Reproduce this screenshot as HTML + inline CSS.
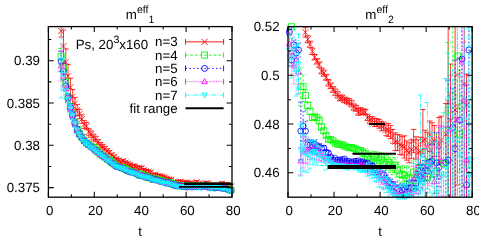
<!DOCTYPE html>
<html><head><meta charset="utf-8"><title>m eff</title>
<style>html,body{margin:0;padding:0;background:#fff}body{width:479px;height:240px;overflow:hidden;font-family:"Liberation Sans",sans-serif}svg{display:block}</style>
</head><body>
<svg width="479" height="240" viewBox="0 0 479 240" font-family="'Liberation Sans', sans-serif" font-size="13.3" fill="#000" style="text-rendering:geometricPrecision">
<rect width="479" height="240" fill="#fff"/>
<filter id="bl" x="0" y="0" width="479" height="240" filterUnits="userSpaceOnUse" color-interpolation-filters="sRGB"><feGaussianBlur stdDeviation="0.35"/></filter>
<g stroke="#ff0000" stroke-width="0.8" fill="none" filter="url(#bl)">
<path d="M61.17 26.6L61.17 37.05M58.38 37.05L63.97 37.05M63.47 30.09L63.47 62.09M60.67 30.09L66.27 30.09M60.67 62.09L66.27 62.09M65.77 48.98L65.77 74.98M62.97 48.98L68.56 48.98M62.97 74.98L68.56 74.98M68.06 64.33L68.06 88.33M65.26 64.33L70.86 64.33M65.26 88.33L70.86 88.33M70.36 78.3L70.36 96.3M67.56 78.3L73.16 78.3M67.56 96.3L73.16 96.3M72.65 89.52L72.65 103.52M69.85 89.52L75.45 89.52M69.85 103.52L75.45 103.52M74.94 97.4L74.94 109.4M72.14 97.4L77.74 97.4M72.14 109.4L77.74 109.4M77.24 104.38L77.24 115.38M74.44 104.38L80.04 104.38M74.44 115.38L80.04 115.38M79.53 109.34L79.53 118.69M76.73 109.34L82.33 109.34M76.73 118.69L82.33 118.69M81.83 114.79L81.83 123.4M79.03 114.79L84.63 114.79M79.03 123.4L84.63 123.4M84.12 120.4L84.12 128.35M81.32 120.4L86.92 120.4M81.32 128.35L86.92 128.35M86.42 122.48L86.42 129.84M83.62 122.48L89.22 122.48M83.62 129.84L89.22 129.84M88.71 128.35L88.71 135.2M85.91 128.35L91.51 128.35M85.91 135.2L91.51 135.2M91.01 131.02L91.01 137.43M88.21 131.02L93.81 131.02M88.21 137.43L93.81 137.43M93.3 134.16L93.3 140.16M90.5 134.16L96.1 134.16M90.5 140.16L96.1 140.16M95.6 136.27L95.6 141.92M92.8 136.27L98.4 136.27M92.8 141.92L98.4 141.92M97.89 139.6L97.89 144.93M95.09 139.6L100.69 139.6M95.09 144.93L100.69 144.93M100.19 142.64L100.19 147.7M97.39 142.64L102.99 142.64M97.39 147.7L102.99 147.7M102.48 144.39L102.48 149.21M99.69 144.39L105.28 144.39M99.69 149.21L105.28 149.21M104.78 146.43L104.78 151.04M101.98 146.43L107.58 146.43M101.98 151.04L107.58 151.04M107.08 148.72L107.08 153.13M104.28 148.72L109.88 148.72M104.28 153.13L109.88 153.13M109.37 150.63L109.37 154.88M106.57 150.63L112.17 150.63M106.57 154.88L112.17 154.88M111.67 153.03L111.67 157.14M108.87 153.03L114.47 153.03M108.87 157.14L114.47 157.14M113.96 155.05L113.96 159.02M111.16 155.05L116.76 155.05M111.16 159.02L116.76 159.02M116.25 157.29L116.25 161.15M113.45 157.29L119.05 157.29M113.45 161.15L119.05 161.15M118.55 158.51L118.55 162.27M115.75 158.51L121.35 158.51M115.75 162.27L121.35 162.27M120.84 160.3L120.84 163.97M118.04 160.3L123.64 160.3M118.04 163.97L123.64 163.97M123.14 159.27L123.14 162.86M120.34 159.27L125.94 159.27M120.34 162.86L125.94 162.86M125.43 161.01L125.43 164.53M122.63 161.01L128.23 161.01M122.63 164.53L128.23 164.53M127.73 161.93L127.73 165.39M124.93 161.93L130.53 161.93M124.93 165.39L130.53 165.39M130.03 163.13L130.03 166.54M127.23 163.13L132.83 163.13M127.23 166.54L132.83 166.54M132.32 164.58L132.32 167.94M129.52 164.58L135.12 164.58M129.52 167.94L135.12 167.94M134.62 164.5L134.62 167.82M131.81 164.5L137.42 164.5M131.81 167.82L137.42 167.82M136.91 165.91L136.91 169.19M134.11 165.91L139.71 165.91M134.11 169.19L139.71 169.19M139.21 166.16L139.21 169.41M136.41 166.16L142.01 166.16M136.41 169.41L142.01 169.41M141.5 166.47L141.5 169.69M138.7 166.47L144.3 166.47M138.7 169.69L144.3 169.69M143.79 168.58L143.79 171.77M140.99 168.58L146.59 168.58M140.99 171.77L146.59 171.77M146.09 169.55L146.09 172.72M143.29 169.55L148.89 169.55M143.29 172.72L148.89 172.72M148.38 170.03L148.38 173.18M145.58 170.03L151.19 170.03M145.58 173.18L151.19 173.18M150.68 170.91L150.68 174.04M147.88 170.91L153.48 170.91M147.88 174.04L153.48 174.04M152.97 173.33L152.97 176.44M150.17 173.33L155.78 173.33M150.17 176.44L155.78 176.44M155.27 173.1L155.27 176.2M152.47 173.1L158.07 173.1M152.47 176.2L158.07 176.2M157.56 174.36L157.56 177.45M154.76 174.36L160.37 174.36M154.76 177.45L160.37 177.45M159.86 174.32L159.86 177.4M157.06 174.32L162.66 174.32M157.06 177.4L162.66 177.4M162.16 175.11L162.16 178.18M159.35 175.11L164.96 175.11M159.35 178.18L164.96 178.18M164.45 175.86L164.45 178.93M161.65 175.86L167.25 175.86M161.65 178.93L167.25 178.93M166.75 177.15L166.75 180.2M163.94 177.15L169.55 177.15M163.94 180.2L169.55 180.2M169.04 177.74L169.04 180.79M166.24 177.74L171.84 177.74M166.24 180.79L171.84 180.79M171.34 178.15L171.34 181.19M168.53 178.15L174.14 178.15M168.53 181.19L174.14 181.19M173.63 180.6L173.63 183.64M170.83 180.6L176.43 180.6M170.83 183.64L176.43 183.64M175.93 180.57L175.93 183.6M173.12 180.57L178.73 180.57M173.12 183.6L178.73 183.6M178.22 180.54L178.22 183.57M175.42 180.54L181.02 180.54M175.42 183.57L181.02 183.57M180.52 180.05L180.52 183.08M177.72 180.05L183.32 180.05M177.72 183.08L183.32 183.08M182.81 181.42L182.81 184.44M180.01 181.42L185.61 181.42M180.01 184.44L185.61 184.44M185.11 180.97L185.11 183.99M182.31 180.97L187.91 180.97M182.31 183.99L187.91 183.99M187.4 181.09L187.4 184.11M184.6 181.09L190.2 181.09M184.6 184.11L190.2 184.11M189.69 181.71L189.69 184.72M186.89 181.71L192.5 181.71M186.89 184.72L192.5 184.72M191.99 182.13L191.99 185.14M189.19 182.13L194.79 182.13M189.19 185.14L194.79 185.14M194.28 182.18L194.28 185.19M191.48 182.18L197.09 182.18M191.48 185.19L197.09 185.19M196.58 180.54L196.58 183.56M193.78 180.54L199.38 180.54M193.78 183.56L199.38 183.56M198.88 182.12L198.88 185.13M196.07 182.12L201.68 182.12M196.07 185.13L201.68 185.13M201.17 183.01L201.17 186.02M198.37 183.01L203.97 183.01M198.37 186.02L203.97 186.02M203.47 182.85L203.47 185.85M200.66 182.85L206.27 182.85M200.66 185.85L206.27 185.85M205.76 181.79L205.76 184.8M202.96 181.79L208.56 181.79M202.96 184.8L208.56 184.8M208.06 181.99L208.06 184.99M205.25 181.99L210.86 181.99M205.25 184.99L210.86 184.99M210.35 183.69L210.35 186.69M207.55 183.69L213.15 183.69M207.55 186.69L213.15 186.69M212.65 183.37L212.65 186.38M209.84 183.37L215.45 183.37M209.84 186.38L215.45 186.38M214.94 183.61L214.94 186.61M212.14 183.61L217.74 183.61M212.14 186.61L217.74 186.61M217.24 183.65L217.24 187.65M214.44 183.65L220.04 183.65M214.44 187.65L220.04 187.65M219.53 182.93L219.53 186.93M216.73 182.93L222.33 182.93M216.73 186.93L222.33 186.93M221.83 181.84L221.83 185.84M219.03 181.84L224.63 181.84M219.03 185.84L224.63 185.84M224.12 183.03L224.12 187.03M221.32 183.03L226.92 183.03M221.32 187.03L226.92 187.03M226.42 182.71L226.42 186.71M223.62 182.71L229.22 182.71M223.62 186.71L229.22 186.71M228.71 184.34L228.71 188.34M225.91 184.34L231.51 184.34M225.91 188.34L231.51 188.34M231.01 184.31L231.01 188.31M228.21 184.31L233.81 184.31M228.21 188.31L233.81 188.31"/>
<path d="M58.17 28.05L64.17 34.05M58.17 34.05L64.17 28.05"/>
<path d="M60.47 43.09L66.47 49.09M60.47 49.09L66.47 43.09"/>
<path d="M62.77 58.98L68.77 64.98M62.77 64.98L68.77 58.98"/>
<path d="M65.06 73.33L71.06 79.33M65.06 79.33L71.06 73.33"/>
<path d="M67.36 84.3L73.36 90.3M67.36 90.3L73.36 84.3"/>
<path d="M69.65 93.52L75.65 99.52M69.65 99.52L75.65 93.52"/>
<path d="M71.94 100.4L77.94 106.4M71.94 106.4L77.94 100.4"/>
<path d="M74.24 106.88L80.24 112.88M74.24 112.88L80.24 106.88"/>
<path d="M76.53 111.01L82.53 117.01M76.53 117.01L82.53 111.01"/>
<path d="M78.83 116.1L84.83 122.1M78.83 122.1L84.83 116.1"/>
<path d="M81.12 121.37L87.12 127.37M81.12 127.37L87.12 121.37"/>
<path d="M83.42 123.16L89.42 129.16M83.42 129.16L89.42 123.16"/>
<path d="M85.71 128.78L91.71 134.78M85.71 134.78L91.71 128.78"/>
<path d="M88.01 131.23L94.01 137.23M88.01 137.23L94.01 131.23"/>
<path d="M90.3 134.16L96.3 140.16M90.3 140.16L96.3 134.16"/>
<path d="M92.6 136.1L98.6 142.1M92.6 142.1L98.6 136.1"/>
<path d="M94.89 139.27L100.89 145.27M94.89 145.27L100.89 139.27"/>
<path d="M97.19 142.17L103.19 148.17M97.19 148.17L103.19 142.17"/>
<path d="M99.48 143.8L105.48 149.8M99.48 149.8L105.48 143.8"/>
<path d="M101.78 145.74L107.78 151.74M101.78 151.74L107.78 145.74"/>
<path d="M104.08 147.92L110.08 153.92M104.08 153.92L110.08 147.92"/>
<path d="M106.37 149.75L112.37 155.75M106.37 155.75L112.37 149.75"/>
<path d="M108.67 152.09L114.67 158.09M108.67 158.09L114.67 152.09"/>
<path d="M110.96 154.03L116.96 160.03M110.96 160.03L116.96 154.03"/>
<path d="M113.25 156.22L119.25 162.22M113.25 162.22L119.25 156.22"/>
<path d="M115.55 157.39L121.55 163.39M115.55 163.39L121.55 157.39"/>
<path d="M117.84 159.14L123.84 165.14M117.84 165.14L123.84 159.14"/>
<path d="M120.14 158.06L126.14 164.06M120.14 164.06L126.14 158.06"/>
<path d="M122.43 159.77L128.44 165.77M122.43 165.77L128.44 159.77"/>
<path d="M124.73 160.66L130.73 166.66M124.73 166.66L130.73 160.66"/>
<path d="M127.03 161.83L133.03 167.83M127.03 167.83L133.03 161.83"/>
<path d="M129.32 163.26L135.32 169.26M129.32 169.26L135.32 163.26"/>
<path d="M131.62 163.16L137.62 169.16M131.62 169.16L137.62 163.16"/>
<path d="M133.91 164.55L139.91 170.55M133.91 170.55L139.91 164.55"/>
<path d="M136.21 164.78L142.21 170.78M136.21 170.78L142.21 164.78"/>
<path d="M138.5 165.08L144.5 171.08M138.5 171.08L144.5 165.08"/>
<path d="M140.79 167.17L146.79 173.17M140.79 173.17L146.79 167.17"/>
<path d="M143.09 168.14L149.09 174.14M143.09 174.14L149.09 168.14"/>
<path d="M145.38 168.6L151.38 174.6M145.38 174.6L151.38 168.6"/>
<path d="M147.68 169.48L153.68 175.48M147.68 175.48L153.68 169.48"/>
<path d="M149.97 171.89L155.97 177.89M149.97 177.89L155.97 171.89"/>
<path d="M152.27 171.65L158.27 177.65M152.27 177.65L158.27 171.65"/>
<path d="M154.56 172.9L160.56 178.9M154.56 178.9L160.56 172.9"/>
<path d="M156.86 172.86L162.86 178.86M156.86 178.86L162.86 172.86"/>
<path d="M159.16 173.64L165.16 179.64M159.16 179.64L165.16 173.64"/>
<path d="M161.45 174.39L167.45 180.39M161.45 180.39L167.45 174.39"/>
<path d="M163.75 175.67L169.75 181.67M163.75 181.67L169.75 175.67"/>
<path d="M166.04 176.27L172.04 182.27M166.04 182.27L172.04 176.27"/>
<path d="M168.34 176.67L174.34 182.67M168.34 182.67L174.34 176.67"/>
<path d="M170.63 179.12L176.63 185.12M170.63 185.12L176.63 179.12"/>
<path d="M172.93 179.08L178.93 185.08M172.93 185.08L178.93 179.08"/>
<path d="M175.22 179.06L181.22 185.06M175.22 185.06L181.22 179.06"/>
<path d="M177.52 178.57L183.52 184.57M177.52 184.57L183.52 178.57"/>
<path d="M179.81 179.93L185.81 185.93M179.81 185.93L185.81 179.93"/>
<path d="M182.11 179.48L188.11 185.48M182.11 185.48L188.11 179.48"/>
<path d="M184.4 179.6L190.4 185.6M184.4 185.6L190.4 179.6"/>
<path d="M186.69 180.22L192.69 186.22M186.69 186.22L192.69 180.22"/>
<path d="M188.99 180.63L194.99 186.63M188.99 186.63L194.99 180.63"/>
<path d="M191.28 180.68L197.28 186.68M191.28 186.68L197.28 180.68"/>
<path d="M193.58 179.05L199.58 185.05M193.58 185.05L199.58 179.05"/>
<path d="M195.88 180.63L201.88 186.63M195.88 186.63L201.88 180.63"/>
<path d="M198.17 181.51L204.17 187.51M198.17 187.51L204.17 181.51"/>
<path d="M200.47 181.35L206.47 187.35M200.47 187.35L206.47 181.35"/>
<path d="M202.76 180.3L208.76 186.3M202.76 186.3L208.76 180.3"/>
<path d="M205.06 180.49L211.06 186.49M205.06 186.49L211.06 180.49"/>
<path d="M207.35 182.19L213.35 188.19M207.35 188.19L213.35 182.19"/>
<path d="M209.65 181.88L215.65 187.88M209.65 187.88L215.65 181.88"/>
<path d="M211.94 182.11L217.94 188.11M211.94 188.11L217.94 182.11"/>
<path d="M214.24 182.65L220.24 188.65M214.24 188.65L220.24 182.65"/>
<path d="M216.53 181.93L222.53 187.93M216.53 187.93L222.53 181.93"/>
<path d="M218.83 180.84L224.83 186.84M218.83 186.84L224.83 180.84"/>
<path d="M221.12 182.03L227.12 188.03M221.12 188.03L227.12 182.03"/>
<path d="M223.42 181.71L229.42 187.71M223.42 187.71L229.42 181.71"/>
<path d="M225.71 183.34L231.71 189.34M225.71 189.34L231.71 183.34"/>
<path d="M228.01 183.31L234.01 189.31M228.01 189.31L234.01 183.31"/>
</g>
<g stroke="#00ff00" stroke-width="0.8" fill="none" filter="url(#bl)">
<path d="M61.17 48.48L61.17 64.48M58.38 48.48L63.97 48.48M58.38 64.48L63.97 64.48M63.47 62.06L63.47 74.06M60.67 62.06L66.27 62.06M60.67 74.06L66.27 74.06M65.77 77.17L65.77 87.17M62.97 77.17L68.56 77.17M62.97 87.17L68.56 87.17M68.06 92.99L68.06 100.99M65.26 92.99L70.86 92.99M65.26 100.99L70.86 100.99M70.36 102.96L70.36 109.96M67.56 102.96L73.16 102.96M67.56 109.96L73.16 109.96M72.65 110.5L72.65 117.1M69.85 110.5L75.45 110.5M69.85 117.1L75.45 117.1M74.94 118.83L74.94 125.03M72.14 118.83L77.74 118.83M72.14 125.03L77.74 125.03M77.24 126.48L77.24 132.48M74.44 126.48L80.04 126.48M74.44 132.48L80.04 132.48M79.53 130.79L79.53 136.53M76.73 130.79L82.33 130.79M76.73 136.53L82.33 136.53M81.83 134.42L81.83 139.58M79.03 134.42L84.63 134.42M79.03 139.58L84.63 139.58M84.12 137.73L84.12 142.37M81.32 137.73L86.92 137.73M81.32 142.37L86.92 142.37M86.42 140.88L86.42 145.07M83.62 140.88L89.22 140.88M83.62 145.07L89.22 145.07M88.71 142.7L88.71 146.5M85.91 142.7L91.51 142.7M85.91 146.5L91.51 146.5M91.01 144.6L91.01 148.05M88.21 144.6L93.81 144.6M88.21 148.05L93.81 148.05M93.3 145.75L93.3 148.88M90.5 145.75L96.1 145.75M90.5 148.88L96.1 148.88M95.6 148.57L95.6 151.43M92.8 148.57L98.4 148.57M92.8 151.43L98.4 151.43M97.89 150.61L97.89 153.23M95.09 150.61L100.69 150.61M95.09 153.23L100.69 153.23M100.19 152.93L100.19 155.33M97.39 152.93L102.99 152.93M97.39 155.33L102.99 155.33M102.48 154.24L102.48 156.46M99.69 154.24L105.28 154.24M99.69 156.46L105.28 156.46M104.78 156.18L104.78 158.23M101.98 156.18L107.58 156.18M101.98 158.23L107.58 158.23M107.08 158.19L107.08 160.09M104.28 158.19L109.88 158.19M104.28 160.09L109.88 160.09M109.37 159L109.37 160.78M106.57 159L112.17 159M106.57 160.78L112.17 160.78M111.67 161.77L111.67 163.43M108.87 161.77L114.47 161.77M108.87 163.43L114.47 163.43M113.96 163.23L113.96 164.79M111.16 163.23L116.76 163.23M111.16 164.79L116.76 164.79M116.25 164.59L116.25 166.06M113.45 164.59L119.05 164.59M113.45 166.06L119.05 166.06M118.55 165.84L118.55 167.23M115.75 165.84L121.35 165.84M115.75 167.23L121.35 167.23M120.84 166.87L120.84 168.19M118.04 166.87L123.64 166.87M118.04 168.19L123.64 168.19M123.14 167.19L123.14 168.45M120.34 167.19L125.94 167.19M120.34 168.45L125.94 168.45M125.43 168.34L125.43 169.54M122.63 168.34L128.23 168.34M122.63 169.54L128.23 169.54M127.73 169.92L127.73 171.08M124.93 169.92L130.53 169.92M124.93 171.08L130.53 171.08M130.03 171.01L130.03 172.12M127.23 171.01L132.83 171.01M127.23 172.12L132.83 172.12M132.32 171.41L132.32 172.49M129.52 171.41L135.12 171.41M129.52 172.49L135.12 172.49M134.62 171.63L134.62 172.67M131.81 171.63L137.42 171.63M131.81 172.67L137.42 172.67M136.91 172.95L136.91 173.97M134.11 172.95L139.71 172.95M134.11 173.97L139.71 173.97M139.21 174.35L139.21 175.34M136.41 174.35L142.01 174.35M136.41 175.34L142.01 175.34M141.5 174.29L141.5 175.26M138.7 174.29L144.3 174.29M138.7 175.26L144.3 175.26M143.79 175.09L143.79 176.04M140.99 175.09L146.59 175.09M140.99 176.04L146.59 176.04M146.09 176.6L146.09 177.54M143.29 176.6L148.89 176.6M143.29 177.54L148.89 177.54M148.38 176.45L148.38 177.37M145.58 176.45L151.19 176.45M145.58 177.37L151.19 177.37M150.68 177.56L150.68 178.47M147.88 177.56L153.48 177.56M147.88 178.47L153.48 178.47M152.97 178.78L152.97 179.67M150.17 178.78L155.78 178.78M150.17 179.67L155.78 179.67M155.27 178.49L155.27 179.37M152.47 178.49L158.07 178.49M152.47 179.37L158.07 179.37M157.56 179.39L157.56 180.26M154.76 179.39L160.37 179.39M154.76 180.26L160.37 180.26M159.86 179.95L159.86 180.81M157.06 179.95L162.66 179.95M157.06 180.81L162.66 180.81M162.16 180.52L162.16 181.37M159.35 180.52L164.96 180.52M159.35 181.37L164.96 181.37M164.45 181.41L164.45 182.26M161.65 181.41L167.25 181.41M161.65 182.26L167.25 182.26M166.75 182.23L166.75 183.08M163.94 182.23L169.55 182.23M163.94 183.08L169.55 183.08M169.04 181.97L169.04 182.81M166.24 181.97L171.84 181.97M166.24 182.81L171.84 182.81M171.34 182.97L171.34 183.81M168.53 182.97L174.14 182.97M168.53 183.81L174.14 183.81M173.63 183.95L173.63 184.78M170.83 183.95L176.43 183.95M170.83 184.78L176.43 184.78M175.93 184.89L175.93 185.72M173.12 184.89L178.73 184.89M173.12 185.72L178.73 185.72M178.22 185.39L178.22 186.22M175.42 185.39L181.02 185.39M175.42 186.22L181.02 186.22M180.52 185.52L180.52 186.34M177.72 185.52L183.32 185.52M177.72 186.34L183.32 186.34M182.81 185.56L182.81 186.38M180.01 185.56L185.61 185.56M180.01 186.38L185.61 186.38M185.11 185.64L185.11 186.45M182.31 185.64L187.91 185.64M182.31 186.45L187.91 186.45M187.4 185.79L187.4 186.61M184.6 185.79L190.2 185.79M184.6 186.61L190.2 186.61M189.69 185.47L189.69 186.28M186.89 185.47L192.5 185.47M186.89 186.28L192.5 186.28M191.99 185.57L191.99 186.38M189.19 185.57L194.79 185.57M189.19 186.38L194.79 186.38M194.28 185.69L194.28 186.5M191.48 185.69L197.09 185.69M191.48 186.5L197.09 186.5M196.58 185.47L196.58 186.28M193.78 185.47L199.38 185.47M193.78 186.28L199.38 186.28M198.88 185.69L198.88 186.5M196.07 185.69L201.68 185.69M196.07 186.5L201.68 186.5M201.17 186.12L201.17 186.93M198.37 186.12L203.97 186.12M198.37 186.93L203.97 186.93M203.47 185.85L203.47 186.66M200.66 185.85L206.27 185.85M200.66 186.66L206.27 186.66M205.76 185.56L205.76 186.36M202.96 185.56L208.56 185.56M202.96 186.36L208.56 186.36M208.06 185.41L208.06 186.22M205.25 185.41L210.86 185.41M205.25 186.22L210.86 186.22M210.35 186.64L210.35 187.44M207.55 186.64L213.15 186.64M207.55 187.44L213.15 187.44M212.65 187.25L212.65 188.06M209.84 187.25L215.45 187.25M209.84 188.06L215.45 188.06M214.94 186.84L214.94 187.64M212.14 186.84L217.74 186.84M212.14 187.64L217.74 187.64M217.24 185.86L217.24 187.66M214.44 185.86L220.04 185.86M214.44 187.66L220.04 187.66M219.53 186.73L219.53 188.53M216.73 186.73L222.33 186.73M216.73 188.53L222.33 188.53M221.83 186.45L221.83 188.26M219.03 186.45L224.63 186.45M219.03 188.26L224.63 188.26M224.12 186.22L224.12 188.02M221.32 186.22L226.92 186.22M221.32 188.02L226.92 188.02M226.42 187.78L226.42 189.58M223.62 187.78L229.22 187.78M223.62 189.58L229.22 189.58M228.71 188.04L228.71 189.84M225.91 188.04L231.51 188.04M225.91 189.84L231.51 189.84M231.01 189.16L231.01 190.96M228.21 189.16L233.81 189.16M228.21 190.96L233.81 190.96" stroke-dasharray="2.7 2.0"/>
<rect x="58.17" y="53.48" width="6" height="6"/>
<rect x="60.47" y="65.06" width="6" height="6"/>
<rect x="62.77" y="79.17" width="6" height="6"/>
<rect x="65.06" y="93.99" width="6" height="6"/>
<rect x="67.36" y="103.46" width="6" height="6"/>
<rect x="69.65" y="110.8" width="6" height="6"/>
<rect x="71.94" y="118.93" width="6" height="6"/>
<rect x="74.24" y="126.48" width="6" height="6"/>
<rect x="76.53" y="130.66" width="6" height="6"/>
<rect x="78.83" y="134" width="6" height="6"/>
<rect x="81.12" y="137.05" width="6" height="6"/>
<rect x="83.42" y="139.98" width="6" height="6"/>
<rect x="85.71" y="141.6" width="6" height="6"/>
<rect x="88.01" y="143.32" width="6" height="6"/>
<rect x="90.3" y="144.32" width="6" height="6"/>
<rect x="92.6" y="147" width="6" height="6"/>
<rect x="94.89" y="148.92" width="6" height="6"/>
<rect x="97.19" y="151.13" width="6" height="6"/>
<rect x="99.48" y="152.35" width="6" height="6"/>
<rect x="101.78" y="154.2" width="6" height="6"/>
<rect x="104.08" y="156.14" width="6" height="6"/>
<rect x="106.37" y="156.89" width="6" height="6"/>
<rect x="108.67" y="159.6" width="6" height="6"/>
<rect x="110.96" y="161.01" width="6" height="6"/>
<rect x="113.25" y="162.32" width="6" height="6"/>
<rect x="115.55" y="163.53" width="6" height="6"/>
<rect x="117.84" y="164.53" width="6" height="6"/>
<rect x="120.14" y="164.82" width="6" height="6"/>
<rect x="122.43" y="165.94" width="6" height="6"/>
<rect x="124.73" y="167.5" width="6" height="6"/>
<rect x="127.03" y="168.56" width="6" height="6"/>
<rect x="129.32" y="168.95" width="6" height="6"/>
<rect x="131.62" y="169.15" width="6" height="6"/>
<rect x="133.91" y="170.46" width="6" height="6"/>
<rect x="136.21" y="171.85" width="6" height="6"/>
<rect x="138.5" y="171.78" width="6" height="6"/>
<rect x="140.79" y="172.57" width="6" height="6"/>
<rect x="143.09" y="174.07" width="6" height="6"/>
<rect x="145.38" y="173.91" width="6" height="6"/>
<rect x="147.68" y="175.02" width="6" height="6"/>
<rect x="149.97" y="176.23" width="6" height="6"/>
<rect x="152.27" y="175.93" width="6" height="6"/>
<rect x="154.56" y="176.83" width="6" height="6"/>
<rect x="156.86" y="177.38" width="6" height="6"/>
<rect x="159.16" y="177.94" width="6" height="6"/>
<rect x="161.45" y="178.83" width="6" height="6"/>
<rect x="163.75" y="179.66" width="6" height="6"/>
<rect x="166.04" y="179.39" width="6" height="6"/>
<rect x="168.34" y="180.39" width="6" height="6"/>
<rect x="170.63" y="181.36" width="6" height="6"/>
<rect x="172.93" y="182.31" width="6" height="6"/>
<rect x="175.22" y="182.81" width="6" height="6"/>
<rect x="177.52" y="182.93" width="6" height="6"/>
<rect x="179.81" y="182.97" width="6" height="6"/>
<rect x="182.11" y="183.05" width="6" height="6"/>
<rect x="184.4" y="183.2" width="6" height="6"/>
<rect x="186.69" y="182.88" width="6" height="6"/>
<rect x="188.99" y="182.98" width="6" height="6"/>
<rect x="191.28" y="183.09" width="6" height="6"/>
<rect x="193.58" y="182.87" width="6" height="6"/>
<rect x="195.88" y="183.1" width="6" height="6"/>
<rect x="198.17" y="183.53" width="6" height="6"/>
<rect x="200.47" y="183.25" width="6" height="6"/>
<rect x="202.76" y="182.96" width="6" height="6"/>
<rect x="205.06" y="182.81" width="6" height="6"/>
<rect x="207.35" y="184.04" width="6" height="6"/>
<rect x="209.65" y="184.65" width="6" height="6"/>
<rect x="211.94" y="184.24" width="6" height="6"/>
<rect x="214.24" y="183.76" width="6" height="6"/>
<rect x="216.53" y="184.63" width="6" height="6"/>
<rect x="218.83" y="184.36" width="6" height="6"/>
<rect x="221.12" y="184.12" width="6" height="6"/>
<rect x="223.42" y="185.68" width="6" height="6"/>
<rect x="225.71" y="185.94" width="6" height="6"/>
<rect x="228.01" y="187.06" width="6" height="6"/>
</g>
<g stroke="#0000ff" stroke-width="0.8" fill="none" filter="url(#bl)">
<path d="M61.17 51.24L61.17 71.24M58.38 51.24L63.97 51.24M58.38 71.24L63.97 71.24M63.47 63.4L63.47 79.4M60.67 63.4L66.27 63.4M60.67 79.4L66.27 79.4M65.77 80.79L65.77 90.79M62.97 80.79L68.56 80.79M62.97 90.79L68.56 90.79M68.06 93.78L68.06 101.78M65.26 93.78L70.86 93.78M65.26 101.78L70.86 101.78M70.36 103.98L70.36 110.98M67.56 103.98L73.16 103.98M67.56 110.98L73.16 110.98M72.65 111.7L72.65 118.3M69.85 111.7L75.45 111.7M69.85 118.3L75.45 118.3M74.94 120L74.94 126.2M72.14 120L77.74 120M72.14 126.2L77.74 126.2M77.24 126.68L77.24 132.68M74.44 126.68L80.04 126.68M74.44 132.68L80.04 132.68M79.53 131.19L79.53 136.93M76.73 131.19L82.33 131.19M76.73 136.93L82.33 136.93M81.83 135.23L81.83 140.4M79.03 135.23L84.63 135.23M79.03 140.4L84.63 140.4M84.12 138.63L84.12 143.28M81.32 138.63L86.92 138.63M81.32 143.28L86.92 143.28M86.42 141.06L86.42 145.25M83.62 141.06L89.22 141.06M83.62 145.25L89.22 145.25M88.71 143.06L88.71 146.86M85.91 143.06L91.51 143.06M85.91 146.86L91.51 146.86M91.01 144.85L91.01 148.29M88.21 144.85L93.81 144.85M88.21 148.29L93.81 148.29M93.3 147.01L93.3 150.14M90.5 147.01L96.1 147.01M90.5 150.14L96.1 150.14M95.6 149.01L95.6 151.87M92.8 149.01L98.4 149.01M92.8 151.87L98.4 151.87M97.89 150.89L97.89 153.51M95.09 150.89L100.69 150.89M95.09 153.51L100.69 153.51M100.19 152.88L100.19 155.28M97.39 152.88L102.99 152.88M97.39 155.28L102.99 155.28M102.48 154.55L102.48 156.77M99.69 154.55L105.28 154.55M99.69 156.77L105.28 156.77M104.78 155.94L104.78 157.99M101.98 155.94L107.58 155.94M101.98 157.99L107.58 157.99M107.08 158.43L107.08 160.33M104.28 158.43L109.88 158.43M104.28 160.33L109.88 160.33M109.37 160.12L109.37 161.89M106.57 160.12L112.17 160.12M106.57 161.89L112.17 161.89M111.67 161.93L111.67 163.59M108.87 161.93L114.47 161.93M108.87 163.59L114.47 163.59M113.96 163.71L113.96 165.27M111.16 163.71L116.76 163.71M111.16 165.27L116.76 165.27M116.25 165.6L116.25 167.07M113.45 165.6L119.05 165.6M113.45 167.07L119.05 167.07M118.55 166.06L118.55 167.45M115.75 166.06L121.35 166.06M115.75 167.45L121.35 167.45M120.84 167.11L120.84 168.43M118.04 167.11L123.64 167.11M118.04 168.43L123.64 168.43M123.14 168.01L123.14 169.26M120.34 168.01L125.94 168.01M120.34 169.26L125.94 169.26M125.43 169.11L125.43 170.31M122.63 169.11L128.23 169.11M122.63 170.31L128.23 170.31M127.73 170.3L127.73 171.46M124.93 170.3L130.53 170.3M124.93 171.46L130.53 171.46M130.03 171.28L130.03 172.39M127.23 171.28L132.83 171.28M127.23 172.39L132.83 172.39M132.32 171.77L132.32 172.85M129.52 171.77L135.12 171.77M129.52 172.85L135.12 172.85M134.62 172.46L134.62 173.5M131.81 172.46L137.42 172.46M131.81 173.5L137.42 173.5M136.91 173.23L136.91 174.25M134.11 173.23L139.71 173.23M134.11 174.25L139.71 174.25M139.21 174.84L139.21 175.83M136.41 174.84L142.01 174.84M136.41 175.83L142.01 175.83M141.5 175.22L141.5 176.19M138.7 175.22L144.3 175.22M138.7 176.19L144.3 176.19M143.79 175.91L143.79 176.86M140.99 175.91L146.59 175.91M140.99 176.86L146.59 176.86M146.09 176.7L146.09 177.63M143.29 176.7L148.89 176.7M143.29 177.63L148.89 177.63M148.38 176.95L148.38 177.86M145.58 176.95L151.19 176.95M145.58 177.86L151.19 177.86M150.68 177.71L150.68 178.62M147.88 177.71L153.48 177.71M147.88 178.62L153.48 178.62M152.97 179.15L152.97 180.05M150.17 179.15L155.78 179.15M150.17 180.05L155.78 180.05M155.27 179.18L155.27 180.06M152.47 179.18L158.07 179.18M152.47 180.06L158.07 180.06M157.56 179.89L157.56 180.76M154.76 179.89L160.37 179.89M154.76 180.76L160.37 180.76M159.86 180.95L159.86 181.81M157.06 180.95L162.66 180.95M157.06 181.81L162.66 181.81M162.16 181.19L162.16 182.05M159.35 181.19L164.96 181.19M159.35 182.05L164.96 182.05M164.45 181.87L164.45 182.72M161.65 181.87L167.25 181.87M161.65 182.72L167.25 182.72M166.75 182.84L166.75 183.68M163.94 182.84L169.55 182.84M163.94 183.68L169.55 183.68M169.04 182.27L169.04 183.11M166.24 182.27L171.84 182.27M166.24 183.11L171.84 183.11M171.34 183.7L171.34 184.54M168.53 183.7L174.14 183.7M168.53 184.54L174.14 184.54M173.63 184.46L173.63 185.29M170.83 184.46L176.43 184.46M170.83 185.29L176.43 185.29M175.93 185.44L175.93 186.26M173.12 185.44L178.73 185.44M173.12 186.26L178.73 186.26M178.22 185.18L178.22 186M175.42 185.18L181.02 185.18M175.42 186L181.02 186M180.52 185.6L180.52 186.42M177.72 185.6L183.32 185.6M177.72 186.42L183.32 186.42M182.81 186L182.81 186.82M180.01 186L185.61 186M180.01 186.82L185.61 186.82M185.11 185.91L185.11 186.73M182.31 185.91L187.91 185.91M182.31 186.73L187.91 186.73M187.4 186.59L187.4 187.41M184.6 186.59L190.2 186.59M184.6 187.41L190.2 187.41M189.69 186.22L189.69 187.04M186.89 186.22L192.5 186.22M186.89 187.04L192.5 187.04M191.99 186.64L191.99 187.45M189.19 186.64L194.79 186.64M189.19 187.45L194.79 187.45M194.28 186.16L194.28 186.97M191.48 186.16L197.09 186.16M191.48 186.97L197.09 186.97M196.58 186.23L196.58 187.04M193.78 186.23L199.38 186.23M193.78 187.04L199.38 187.04M198.88 186.15L198.88 186.95M196.07 186.15L201.68 186.15M196.07 186.95L201.68 186.95M201.17 186.21L201.17 187.01M198.37 186.21L203.97 186.21M198.37 187.01L203.97 187.01M203.47 186.19L203.47 187M200.66 186.19L206.27 186.19M200.66 187L206.27 187M205.76 185.39L205.76 186.2M202.96 185.39L208.56 185.39M202.96 186.2L208.56 186.2M208.06 186.61L208.06 187.42M205.25 186.61L210.86 186.61M205.25 187.42L210.86 187.42M210.35 186.13L210.35 186.94M207.55 186.13L213.15 186.13M207.55 186.94L213.15 186.94M212.65 186.99L212.65 187.8M209.84 186.99L215.45 186.99M209.84 187.8L215.45 187.8M214.94 187.6L214.94 188.4M212.14 187.6L217.74 187.6M212.14 188.4L217.74 188.4M217.24 185.88L217.24 187.69M214.44 185.88L220.04 185.88M214.44 187.69L220.04 187.69M219.53 186.6L219.53 188.41M216.73 186.6L222.33 186.6M216.73 188.41L222.33 188.41M221.83 187.45L221.83 189.25M219.03 187.45L224.63 187.45M219.03 189.25L224.63 189.25M224.12 187.21L224.12 189.01M221.32 187.21L226.92 187.21M221.32 189.01L226.92 189.01M226.42 187.56L226.42 189.36M223.62 187.56L229.22 187.56M223.62 189.36L229.22 189.36M228.71 188.79L228.71 190.59M225.91 188.79L231.51 188.79M225.91 190.59L231.51 190.59M231.01 189.41L231.01 191.22M228.21 189.41L233.81 189.41M228.21 191.22L233.81 191.22" stroke-dasharray="1.6 2.2"/>
<circle cx="61.17" cy="61.24" r="3"/>
<circle cx="63.47" cy="71.4" r="3"/>
<circle cx="65.77" cy="85.79" r="3"/>
<circle cx="68.06" cy="97.78" r="3"/>
<circle cx="70.36" cy="107.48" r="3"/>
<circle cx="72.65" cy="115" r="3"/>
<circle cx="74.94" cy="123.1" r="3"/>
<circle cx="77.24" cy="129.68" r="3"/>
<circle cx="79.53" cy="134.06" r="3"/>
<circle cx="81.83" cy="137.82" r="3"/>
<circle cx="84.12" cy="140.95" r="3"/>
<circle cx="86.42" cy="143.15" r="3"/>
<circle cx="88.71" cy="144.96" r="3"/>
<circle cx="91.01" cy="146.57" r="3"/>
<circle cx="93.3" cy="148.58" r="3"/>
<circle cx="95.6" cy="150.44" r="3"/>
<circle cx="97.89" cy="152.2" r="3"/>
<circle cx="100.19" cy="154.08" r="3"/>
<circle cx="102.48" cy="155.66" r="3"/>
<circle cx="104.78" cy="156.97" r="3"/>
<circle cx="107.08" cy="159.38" r="3"/>
<circle cx="109.37" cy="161.01" r="3"/>
<circle cx="111.67" cy="162.76" r="3"/>
<circle cx="113.96" cy="164.49" r="3"/>
<circle cx="116.25" cy="166.34" r="3"/>
<circle cx="118.55" cy="166.75" r="3"/>
<circle cx="120.84" cy="167.77" r="3"/>
<circle cx="123.14" cy="168.63" r="3"/>
<circle cx="125.43" cy="169.71" r="3"/>
<circle cx="127.73" cy="170.88" r="3"/>
<circle cx="130.03" cy="171.83" r="3"/>
<circle cx="132.32" cy="172.31" r="3"/>
<circle cx="134.62" cy="172.98" r="3"/>
<circle cx="136.91" cy="173.74" r="3"/>
<circle cx="139.21" cy="175.34" r="3"/>
<circle cx="141.5" cy="175.7" r="3"/>
<circle cx="143.79" cy="176.39" r="3"/>
<circle cx="146.09" cy="177.16" r="3"/>
<circle cx="148.38" cy="177.41" r="3"/>
<circle cx="150.68" cy="178.16" r="3"/>
<circle cx="152.97" cy="179.6" r="3"/>
<circle cx="155.27" cy="179.62" r="3"/>
<circle cx="157.56" cy="180.32" r="3"/>
<circle cx="159.86" cy="181.38" r="3"/>
<circle cx="162.16" cy="181.62" r="3"/>
<circle cx="164.45" cy="182.3" r="3"/>
<circle cx="166.75" cy="183.26" r="3"/>
<circle cx="169.04" cy="182.69" r="3"/>
<circle cx="171.34" cy="184.12" r="3"/>
<circle cx="173.63" cy="184.87" r="3"/>
<circle cx="175.93" cy="185.85" r="3"/>
<circle cx="178.22" cy="185.59" r="3"/>
<circle cx="180.52" cy="186.01" r="3"/>
<circle cx="182.81" cy="186.41" r="3"/>
<circle cx="185.11" cy="186.32" r="3"/>
<circle cx="187.4" cy="187" r="3"/>
<circle cx="189.69" cy="186.63" r="3"/>
<circle cx="191.99" cy="187.05" r="3"/>
<circle cx="194.28" cy="186.56" r="3"/>
<circle cx="196.58" cy="186.64" r="3"/>
<circle cx="198.88" cy="186.55" r="3"/>
<circle cx="201.17" cy="186.61" r="3"/>
<circle cx="203.47" cy="186.59" r="3"/>
<circle cx="205.76" cy="185.8" r="3"/>
<circle cx="208.06" cy="187.02" r="3"/>
<circle cx="210.35" cy="186.53" r="3"/>
<circle cx="212.65" cy="187.4" r="3"/>
<circle cx="214.94" cy="188" r="3"/>
<circle cx="217.24" cy="186.79" r="3"/>
<circle cx="219.53" cy="187.5" r="3"/>
<circle cx="221.83" cy="188.35" r="3"/>
<circle cx="224.12" cy="188.11" r="3"/>
<circle cx="226.42" cy="188.46" r="3"/>
<circle cx="228.71" cy="189.69" r="3"/>
<circle cx="231.01" cy="190.32" r="3"/>
</g>
<g stroke="#ff00ff" stroke-width="0.8" fill="none" filter="url(#bl)">
<path d="M61.17 51.06L61.17 81.06M58.38 51.06L63.97 51.06M58.38 81.06L63.97 81.06M63.47 66.1L63.47 86.1M60.67 66.1L66.27 66.1M60.67 86.1L66.27 86.1M65.77 82.98L65.77 94.98M62.97 82.98L68.56 82.98M62.97 94.98L68.56 94.98M68.06 93.72L68.06 102.72M65.26 93.72L70.86 93.72M65.26 102.72L70.86 102.72M70.36 103.99L70.36 111.99M67.56 103.99L73.16 103.99M67.56 111.99L73.16 111.99M72.65 111.99L72.65 119.19M69.85 111.99L75.45 111.99M69.85 119.19L75.45 119.19M74.94 119.89L74.94 126.49M72.14 119.89L77.74 119.89M72.14 126.49L77.74 126.49M77.24 127.08L77.24 133.28M74.44 127.08L80.04 127.08M74.44 133.28L80.04 133.28M79.53 131.62L79.53 137.36M76.73 131.62L82.33 131.62M76.73 137.36L82.33 137.36M81.83 134.94L81.83 140.1M79.03 134.94L84.63 134.94M79.03 140.1L84.63 140.1M84.12 138.55L84.12 143.2M81.32 138.55L86.92 138.55M81.32 143.2L86.92 143.2M86.42 141.27L86.42 145.47M83.62 141.27L89.22 141.27M83.62 145.47L89.22 145.47M88.71 142.88L88.71 146.68M85.91 142.88L91.51 142.88M85.91 146.68L91.51 146.68M91.01 145.01L91.01 148.45M88.21 145.01L93.81 145.01M88.21 148.45L93.81 148.45M93.3 146.89L93.3 150.03M90.5 146.89L96.1 146.89M90.5 150.03L96.1 150.03M95.6 149.42L95.6 152.28M92.8 149.42L98.4 149.42M92.8 152.28L98.4 152.28M97.89 150.96L97.89 153.58M95.09 150.96L100.69 150.96M95.09 153.58L100.69 153.58M100.19 153.34L100.19 155.74M97.39 153.34L102.99 153.34M97.39 155.74L102.99 155.74M102.48 154.49L102.48 156.7M99.69 154.49L105.28 154.49M99.69 156.7L105.28 156.7M104.78 156.6L104.78 158.65M101.98 156.6L107.58 156.6M101.98 158.65L107.58 158.65M107.08 158.43L107.08 160.33M104.28 158.43L109.88 158.43M104.28 160.33L109.88 160.33M109.37 159.49L109.37 161.26M106.57 159.49L112.17 159.49M106.57 161.26L112.17 161.26M111.67 162.17L111.67 163.83M108.87 162.17L114.47 162.17M108.87 163.83L114.47 163.83M113.96 163.72L113.96 165.28M111.16 163.72L116.76 163.72M111.16 165.28L116.76 165.28M116.25 165.01L116.25 166.48M113.45 165.01L119.05 165.01M113.45 166.48L119.05 166.48M118.55 166.23L118.55 167.62M115.75 166.23L121.35 166.23M115.75 167.62L121.35 167.62M120.84 166.72L120.84 168.04M118.04 166.72L123.64 166.72M118.04 168.04L123.64 168.04M123.14 167.59L123.14 168.85M120.34 167.59L125.94 167.59M120.34 168.85L125.94 168.85M125.43 168.74L125.43 169.95M122.63 168.74L128.23 168.74M122.63 169.95L128.23 169.95M127.73 169.67L127.73 170.83M124.93 169.67L130.53 169.67M124.93 170.83L130.53 170.83M130.03 171.05L130.03 172.16M127.23 171.05L132.83 171.05M127.23 172.16L132.83 172.16M132.32 172.02L132.32 173.1M129.52 172.02L135.12 172.02M129.52 173.1L135.12 173.1M134.62 172.08L134.62 173.13M131.81 172.08L137.42 172.08M131.81 173.13L137.42 173.13M136.91 172.65L136.91 173.66M134.11 172.65L139.71 172.65M134.11 173.66L139.71 173.66M139.21 174.11L139.21 175.1M136.41 174.11L142.01 174.11M136.41 175.1L142.01 175.1M141.5 174.46L141.5 175.43M138.7 174.46L144.3 174.46M138.7 175.43L144.3 175.43M143.79 175.7L143.79 176.65M140.99 175.7L146.59 175.7M140.99 176.65L146.59 176.65M146.09 176.98L146.09 177.91M143.29 176.98L148.89 176.98M143.29 177.91L148.89 177.91M148.38 176.88L148.38 177.8M145.58 176.88L151.19 176.88M145.58 177.8L151.19 177.8M150.68 177.73L150.68 178.63M147.88 177.73L153.48 177.73M147.88 178.63L153.48 178.63M152.97 179.54L152.97 180.43M150.17 179.54L155.78 179.54M150.17 180.43L155.78 180.43M155.27 178.98L155.27 179.86M152.47 178.98L158.07 178.98M152.47 179.86L158.07 179.86M157.56 179.77L157.56 180.64M154.76 179.77L160.37 179.77M154.76 180.64L160.37 180.64M159.86 181.11L159.86 181.97M157.06 181.11L162.66 181.11M157.06 181.97L162.66 181.97M162.16 181.46L162.16 182.31M159.35 181.46L164.96 181.46M159.35 182.31L164.96 182.31M164.45 181.99L164.45 182.84M161.65 181.99L167.25 181.99M161.65 182.84L167.25 182.84M166.75 182.47L166.75 183.31M163.94 182.47L169.55 182.47M163.94 183.31L169.55 183.31M169.04 182.65L169.04 183.49M166.24 182.65L171.84 182.65M166.24 183.49L171.84 183.49M171.34 183.61L171.34 184.44M168.53 183.61L174.14 183.61M168.53 184.44L174.14 184.44M173.63 184.15L173.63 184.98M170.83 184.15L176.43 184.15M170.83 184.98L176.43 184.98M175.93 185.18L175.93 186M173.12 185.18L178.73 185.18M173.12 186L178.73 186M178.22 185.58L178.22 186.41M175.42 185.58L181.02 185.58M175.42 186.41L181.02 186.41M180.52 185.96L180.52 186.78M177.72 185.96L183.32 185.96M177.72 186.78L183.32 186.78M182.81 186.04L182.81 186.86M180.01 186.04L185.61 186.04M180.01 186.86L185.61 186.86M185.11 185.81L185.11 186.62M182.31 185.81L187.91 185.81M182.31 186.62L187.91 186.62M187.4 186.03L187.4 186.85M184.6 186.03L190.2 186.03M184.6 186.85L190.2 186.85M189.69 186.7L189.69 187.51M186.89 186.7L192.5 186.7M186.89 187.51L192.5 187.51M191.99 186.73L191.99 187.54M189.19 186.73L194.79 186.73M189.19 187.54L194.79 187.54M194.28 185.74L194.28 186.55M191.48 185.74L197.09 185.74M191.48 186.55L197.09 186.55M196.58 186.23L196.58 187.04M193.78 186.23L199.38 186.23M193.78 187.04L199.38 187.04M198.88 185.58L198.88 186.39M196.07 185.58L201.68 185.58M196.07 186.39L201.68 186.39M201.17 186.41L201.17 187.22M198.37 186.41L203.97 186.41M198.37 187.22L203.97 187.22M203.47 186.38L203.47 187.18M200.66 186.38L206.27 186.38M200.66 187.18L206.27 187.18M205.76 186.61L205.76 187.41M202.96 186.61L208.56 186.61M202.96 187.41L208.56 187.41M208.06 186.03L208.06 186.84M205.25 186.03L210.86 186.03M205.25 186.84L210.86 186.84M210.35 186.77L210.35 187.57M207.55 186.77L213.15 186.77M207.55 187.57L213.15 187.57M212.65 187.1L212.65 187.91M209.84 187.1L215.45 187.1M209.84 187.91L215.45 187.91M214.94 186.07L214.94 186.87M212.14 186.07L217.74 186.07M212.14 186.87L217.74 186.87M217.24 186.13L217.24 187.93M214.44 186.13L220.04 186.13M214.44 187.93L220.04 187.93M219.53 186.35L219.53 188.16M216.73 186.35L222.33 186.35M216.73 188.16L222.33 188.16M221.83 187.09L221.83 188.89M219.03 187.09L224.63 187.09M219.03 188.89L224.63 188.89M224.12 186.68L224.12 188.48M221.32 186.68L226.92 186.68M221.32 188.48L226.92 188.48M226.42 186.96L226.42 188.77M223.62 186.96L229.22 186.96M223.62 188.77L229.22 188.77M228.71 188.6L228.71 190.4M225.91 188.6L231.51 188.6M225.91 190.4L231.51 190.4M231.01 189.18L231.01 190.98M228.21 189.18L233.81 189.18M228.21 190.98L233.81 190.98" stroke-dasharray="0.8 1.0"/>
<path d="M61.17 62.91L58.32 68.01L64.02 68.01Z"/>
<path d="M63.47 72.95L60.62 78.05L66.32 78.05Z"/>
<path d="M65.77 85.83L62.91 90.93L68.61 90.93Z"/>
<path d="M68.06 95.07L65.21 100.17L70.91 100.17Z"/>
<path d="M70.36 104.84L67.51 109.94L73.2 109.94Z"/>
<path d="M72.65 112.44L69.8 117.54L75.5 117.54Z"/>
<path d="M74.94 120.04L72.09 125.14L77.79 125.14Z"/>
<path d="M77.24 127.03L74.39 132.13L80.09 132.13Z"/>
<path d="M79.53 131.34L76.69 136.44L82.38 136.44Z"/>
<path d="M81.83 134.37L78.98 139.47L84.68 139.47Z"/>
<path d="M84.12 137.72L81.27 142.82L86.97 142.82Z"/>
<path d="M86.42 140.22L83.57 145.32L89.27 145.32Z"/>
<path d="M88.71 141.63L85.86 146.73L91.56 146.73Z"/>
<path d="M91.01 143.58L88.16 148.68L93.86 148.68Z"/>
<path d="M93.3 145.31L90.45 150.41L96.15 150.41Z"/>
<path d="M95.6 147.7L92.75 152.8L98.45 152.8Z"/>
<path d="M97.89 149.12L95.05 154.22L100.74 154.22Z"/>
<path d="M100.19 151.39L97.34 156.49L103.04 156.49Z"/>
<path d="M102.48 152.45L99.64 157.55L105.33 157.55Z"/>
<path d="M104.78 154.48L101.93 159.58L107.63 159.58Z"/>
<path d="M107.08 156.23L104.23 161.33L109.92 161.33Z"/>
<path d="M109.37 157.23L106.52 162.33L112.22 162.33Z"/>
<path d="M111.67 159.85L108.82 164.95L114.52 164.95Z"/>
<path d="M113.96 161.35L111.11 166.45L116.81 166.45Z"/>
<path d="M116.25 162.59L113.4 167.69L119.1 167.69Z"/>
<path d="M118.55 163.77L115.7 168.87L121.4 168.87Z"/>
<path d="M120.84 164.23L117.99 169.33L123.69 169.33Z"/>
<path d="M123.14 165.07L120.29 170.17L125.99 170.17Z"/>
<path d="M125.43 166.19L122.58 171.29L128.28 171.29Z"/>
<path d="M127.73 167.1L124.88 172.2L130.58 172.2Z"/>
<path d="M130.03 168.45L127.18 173.55L132.88 173.55Z"/>
<path d="M132.32 169.41L129.47 174.51L135.17 174.51Z"/>
<path d="M134.62 169.46L131.77 174.56L137.47 174.56Z"/>
<path d="M136.91 170.01L134.06 175.11L139.76 175.11Z"/>
<path d="M139.21 171.45L136.36 176.55L142.06 176.55Z"/>
<path d="M141.5 171.79L138.65 176.89L144.35 176.89Z"/>
<path d="M143.79 173.03L140.94 178.13L146.64 178.13Z"/>
<path d="M146.09 174.29L143.24 179.39L148.94 179.39Z"/>
<path d="M148.38 174.19L145.53 179.29L151.23 179.29Z"/>
<path d="M150.68 175.03L147.83 180.13L153.53 180.13Z"/>
<path d="M152.97 176.83L150.12 181.93L155.82 181.93Z"/>
<path d="M155.27 176.27L152.42 181.37L158.12 181.37Z"/>
<path d="M157.56 177.05L154.72 182.15L160.41 182.15Z"/>
<path d="M159.86 178.39L157.01 183.49L162.71 183.49Z"/>
<path d="M162.16 178.74L159.31 183.84L165 183.84Z"/>
<path d="M164.45 179.26L161.6 184.36L167.3 184.36Z"/>
<path d="M166.75 179.74L163.9 184.84L169.59 184.84Z"/>
<path d="M169.04 179.92L166.19 185.02L171.89 185.02Z"/>
<path d="M171.34 180.87L168.49 185.97L174.19 185.97Z"/>
<path d="M173.63 181.41L170.78 186.51L176.48 186.51Z"/>
<path d="M175.93 182.44L173.08 187.54L178.78 187.54Z"/>
<path d="M178.22 182.84L175.37 187.94L181.07 187.94Z"/>
<path d="M180.52 183.22L177.67 188.32L183.37 188.32Z"/>
<path d="M182.81 183.3L179.96 188.4L185.66 188.4Z"/>
<path d="M185.11 183.07L182.26 188.17L187.96 188.17Z"/>
<path d="M187.4 183.29L184.55 188.39L190.25 188.39Z"/>
<path d="M189.69 183.96L186.84 189.06L192.54 189.06Z"/>
<path d="M191.99 183.99L189.14 189.09L194.84 189.09Z"/>
<path d="M194.28 183L191.44 188.1L197.13 188.1Z"/>
<path d="M196.58 183.49L193.73 188.59L199.43 188.59Z"/>
<path d="M198.88 182.83L196.03 187.93L201.72 187.93Z"/>
<path d="M201.17 183.67L198.32 188.77L204.02 188.77Z"/>
<path d="M203.47 183.63L200.62 188.73L206.31 188.73Z"/>
<path d="M205.76 183.86L202.91 188.96L208.61 188.96Z"/>
<path d="M208.06 183.28L205.21 188.38L210.91 188.38Z"/>
<path d="M210.35 184.02L207.5 189.12L213.2 189.12Z"/>
<path d="M212.65 184.35L209.8 189.45L215.5 189.45Z"/>
<path d="M214.94 183.32L212.09 188.42L217.79 188.42Z"/>
<path d="M217.24 183.88L214.39 188.98L220.09 188.98Z"/>
<path d="M219.53 184.1L216.68 189.2L222.38 189.2Z"/>
<path d="M221.83 184.84L218.98 189.94L224.68 189.94Z"/>
<path d="M224.12 184.43L221.27 189.53L226.97 189.53Z"/>
<path d="M226.42 184.72L223.57 189.82L229.27 189.82Z"/>
<path d="M228.71 186.35L225.86 191.45L231.56 191.45Z"/>
<path d="M231.01 186.93L228.16 192.03L233.86 192.03Z"/>
</g>
<g stroke="#00ffff" stroke-width="0.8" fill="none" filter="url(#bl)">
<path d="M61.17 26.6L61.17 97.93M58.38 97.93L63.97 97.93M63.47 58.15L63.47 90.15M60.67 58.15L66.27 58.15M60.67 90.15L66.27 90.15M65.77 82.34L65.77 98.34M62.97 82.34L68.56 82.34M62.97 98.34L68.56 98.34M68.06 94.01L68.06 104.01M65.26 94.01L70.86 94.01M65.26 104.01L70.86 104.01M70.36 104.45L70.36 113.05M67.56 104.45L73.16 104.45M67.56 113.05L73.16 113.05M72.65 112.06L72.65 119.66M69.85 112.06L75.45 112.06M69.85 119.66L75.45 119.66M74.94 120.14L74.94 127.14M72.14 120.14L77.74 120.14M72.14 127.14L77.74 127.14M77.24 127.28L77.24 133.68M74.44 127.28L80.04 127.28M74.44 133.68L80.04 133.68M79.53 131.7L79.53 137.44M76.73 131.7L82.33 131.7M76.73 137.44L82.33 137.44M81.83 135.5L81.83 140.66M79.03 135.5L84.63 135.5M79.03 140.66L84.63 140.66M84.12 139.35L84.12 144M81.32 139.35L86.92 139.35M81.32 144L86.92 144M86.42 141.04L86.42 145.24M83.62 141.04L89.22 141.04M83.62 145.24L89.22 145.24M88.71 143.15L88.71 146.95M85.91 143.15L91.51 143.15M85.91 146.95L91.51 146.95M91.01 145.34L91.01 148.78M88.21 145.34L93.81 145.34M88.21 148.78L93.81 148.78M93.3 146.92L93.3 150.06M90.5 146.92L96.1 146.92M90.5 150.06L96.1 150.06M95.6 149.21L95.6 152.07M92.8 149.21L98.4 149.21M92.8 152.07L98.4 152.07M97.89 150.93L97.89 153.54M95.09 150.93L100.69 150.93M95.09 153.54L100.69 153.54M100.19 152.93L100.19 155.34M97.39 152.93L102.99 152.93M97.39 155.34L102.99 155.34M102.48 154.72L102.48 156.93M99.69 154.72L105.28 154.72M99.69 156.93L105.28 156.93M104.78 156.32L104.78 158.37M101.98 156.32L107.58 156.32M101.98 158.37L107.58 158.37M107.08 158.95L107.08 160.85M104.28 158.95L109.88 158.95M104.28 160.85L109.88 160.85M109.37 159.9L109.37 161.67M106.57 159.9L112.17 159.9M106.57 161.67L112.17 161.67M111.67 162.26L111.67 163.92M108.87 162.26L114.47 162.26M108.87 163.92L114.47 163.92M113.96 163.82L113.96 165.37M111.16 163.82L116.76 163.82M111.16 165.37L116.76 165.37M116.25 165.55L116.25 167.02M113.45 165.55L119.05 165.55M113.45 167.02L119.05 167.02M118.55 166.78L118.55 168.17M115.75 166.78L121.35 166.78M115.75 168.17L121.35 168.17M120.84 167.26L120.84 168.58M118.04 167.26L123.64 167.26M118.04 168.58L123.64 168.58M123.14 167.98L123.14 169.24M120.34 167.98L125.94 167.98M120.34 169.24L125.94 169.24M125.43 168.86L125.43 170.06M122.63 168.86L128.23 168.86M122.63 170.06L128.23 170.06M127.73 170.51L127.73 171.67M124.93 170.51L130.53 170.51M124.93 171.67L130.53 171.67M130.03 171.3L130.03 172.41M127.23 171.3L132.83 171.3M127.23 172.41L132.83 172.41M132.32 172.12L132.32 173.2M129.52 172.12L135.12 172.12M129.52 173.2L135.12 173.2M134.62 172.96L134.62 174.01M131.81 172.96L137.42 172.96M131.81 174.01L137.42 174.01M136.91 173.46L136.91 174.48M134.11 173.46L139.71 173.46M134.11 174.48L139.71 174.48M139.21 174.59L139.21 175.59M136.41 174.59L142.01 174.59M136.41 175.59L142.01 175.59M141.5 175.71L141.5 176.68M138.7 175.71L144.3 175.71M138.7 176.68L144.3 176.68M143.79 176.47L143.79 177.42M140.99 176.47L146.59 176.47M140.99 177.42L146.59 177.42M146.09 176.52L146.09 177.45M143.29 176.52L148.89 176.52M143.29 177.45L148.89 177.45M148.38 177.08L148.38 177.99M145.58 177.08L151.19 177.08M145.58 177.99L151.19 177.99M150.68 178.07L150.68 178.97M147.88 178.07L153.48 178.07M147.88 178.97L153.48 178.97M152.97 179.66L152.97 180.55M150.17 179.66L155.78 179.66M150.17 180.55L155.78 180.55M155.27 179.54L155.27 180.42M152.47 179.54L158.07 179.54M152.47 180.42L158.07 180.42M157.56 180.28L157.56 181.16M154.76 180.28L160.37 180.28M154.76 181.16L160.37 181.16M159.86 181.09L159.86 181.95M157.06 181.09L162.66 181.09M157.06 181.95L162.66 181.95M162.16 181.58L162.16 182.43M159.35 181.58L164.96 181.58M159.35 182.43L164.96 182.43M164.45 182.69L164.45 183.54M161.65 182.69L167.25 182.69M161.65 183.54L167.25 183.54M166.75 182.79L166.75 183.63M163.94 182.79L169.55 182.79M163.94 183.63L169.55 183.63M169.04 182.65L169.04 183.49M166.24 182.65L171.84 182.65M166.24 183.49L171.84 183.49M171.34 184.02L171.34 184.85M168.53 184.02L174.14 184.02M168.53 184.85L174.14 184.85M173.63 184.52L173.63 185.35M170.83 184.52L176.43 184.52M170.83 185.35L176.43 185.35M175.93 185.46L175.93 186.29M173.12 185.46L178.73 185.46M173.12 186.29L178.73 186.29M178.22 185.91L178.22 186.74M175.42 185.91L181.02 185.91M175.42 186.74L181.02 186.74M180.52 186.25L180.52 187.07M177.72 186.25L183.32 186.25M177.72 187.07L183.32 187.07M182.81 186.04L182.81 186.86M180.01 186.04L185.61 186.04M180.01 186.86L185.61 186.86M185.11 185.9L185.11 186.71M182.31 185.9L187.91 185.9M182.31 186.71L187.91 186.71M187.4 186.29L187.4 187.1M184.6 186.29L190.2 186.29M184.6 187.1L190.2 187.1M189.69 186.38L189.69 187.19M186.89 186.38L192.5 186.38M186.89 187.19L192.5 187.19M191.99 186.09L191.99 186.9M189.19 186.09L194.79 186.09M189.19 186.9L194.79 186.9M194.28 186.2L194.28 187.01M191.48 186.2L197.09 186.2M191.48 187.01L197.09 187.01M196.58 186.4L196.58 187.21M193.78 186.4L199.38 186.4M193.78 187.21L199.38 187.21M198.88 186.7L198.88 187.51M196.07 186.7L201.68 186.7M196.07 187.51L201.68 187.51M201.17 187.38L201.17 188.19M198.37 187.38L203.97 187.38M198.37 188.19L203.97 188.19M203.47 185.92L203.47 186.73M200.66 185.92L206.27 185.92M200.66 186.73L206.27 186.73M205.76 185.98L205.76 186.78M202.96 185.98L208.56 185.98M202.96 186.78L208.56 186.78M208.06 185.33L208.06 186.13M205.25 185.33L210.86 185.33M205.25 186.13L210.86 186.13M210.35 187.9L210.35 188.7M207.55 187.9L213.15 187.9M207.55 188.7L213.15 188.7M212.65 187L212.65 187.8M209.84 187L215.45 187M209.84 187.8L215.45 187.8M214.94 187.06L214.94 187.86M212.14 187.06L217.74 187.06M212.14 187.86L217.74 187.86M217.24 186.58L217.24 188.38M214.44 186.58L220.04 186.58M214.44 188.38L220.04 188.38M219.53 186.3L219.53 188.1M216.73 186.3L222.33 186.3M216.73 188.1L222.33 188.1M221.83 187.46L221.83 189.26M219.03 187.46L224.63 187.46M219.03 189.26L224.63 189.26M224.12 187.53L224.12 189.33M221.32 187.53L226.92 187.53M221.32 189.33L226.92 189.33M226.42 187.37L226.42 189.17M223.62 187.37L229.22 187.37M223.62 189.17L229.22 189.17M228.71 189L228.71 190.8M225.91 189L231.51 189M225.91 190.8L231.51 190.8M231.01 189.92L231.01 191.72M228.21 189.92L233.81 189.92M228.21 191.72L233.81 191.72" stroke-dasharray="4.5 1.6 0.9 1.6"/>
<path d="M61.17 63.08L58.32 57.98L64.02 57.98Z"/>
<path d="M63.47 77.3L60.62 72.2L66.32 72.2Z"/>
<path d="M65.77 93.49L62.91 88.39L68.61 88.39Z"/>
<path d="M68.06 102.16L65.21 97.06L70.91 97.06Z"/>
<path d="M70.36 111.9L67.51 106.8L73.2 106.8Z"/>
<path d="M72.65 119.01L69.8 113.91L75.5 113.91Z"/>
<path d="M74.94 126.79L72.09 121.69L77.79 121.69Z"/>
<path d="M77.24 133.63L74.39 128.53L80.09 128.53Z"/>
<path d="M79.53 137.72L76.69 132.62L82.38 132.62Z"/>
<path d="M81.83 141.23L78.98 136.13L84.68 136.13Z"/>
<path d="M84.12 144.82L81.27 139.72L86.97 139.72Z"/>
<path d="M86.42 146.29L83.57 141.19L89.27 141.19Z"/>
<path d="M88.71 148.2L85.86 143.1L91.56 143.1Z"/>
<path d="M91.01 150.21L88.16 145.11L93.86 145.11Z"/>
<path d="M93.3 151.64L90.45 146.54L96.15 146.54Z"/>
<path d="M95.6 153.79L92.75 148.69L98.45 148.69Z"/>
<path d="M97.89 155.39L95.05 150.29L100.74 150.29Z"/>
<path d="M100.19 157.29L97.34 152.19L103.04 152.19Z"/>
<path d="M102.48 158.97L99.64 153.87L105.33 153.87Z"/>
<path d="M104.78 160.49L101.93 155.39L107.63 155.39Z"/>
<path d="M107.08 163.05L104.23 157.95L109.92 157.95Z"/>
<path d="M109.37 163.93L106.52 158.83L112.22 158.83Z"/>
<path d="M111.67 166.24L108.82 161.14L114.52 161.14Z"/>
<path d="M113.96 167.74L111.11 162.64L116.81 162.64Z"/>
<path d="M116.25 169.43L113.4 164.33L119.1 164.33Z"/>
<path d="M118.55 170.62L115.7 165.52L121.4 165.52Z"/>
<path d="M120.84 171.07L117.99 165.97L123.69 165.97Z"/>
<path d="M123.14 171.76L120.29 166.66L125.99 166.66Z"/>
<path d="M125.43 172.61L122.58 167.51L128.28 167.51Z"/>
<path d="M127.73 174.24L124.88 169.14L130.58 169.14Z"/>
<path d="M130.03 175L127.18 169.9L132.88 169.9Z"/>
<path d="M132.32 175.81L129.47 170.71L135.17 170.71Z"/>
<path d="M134.62 176.64L131.77 171.54L137.47 171.54Z"/>
<path d="M136.91 177.12L134.06 172.02L139.76 172.02Z"/>
<path d="M139.21 178.24L136.36 173.14L142.06 173.14Z"/>
<path d="M141.5 179.35L138.65 174.25L144.35 174.25Z"/>
<path d="M143.79 180.09L140.94 174.99L146.64 174.99Z"/>
<path d="M146.09 180.13L143.24 175.03L148.94 175.03Z"/>
<path d="M148.38 180.68L145.53 175.58L151.23 175.58Z"/>
<path d="M150.68 181.67L147.83 176.57L153.53 176.57Z"/>
<path d="M152.97 183.26L150.12 178.16L155.82 178.16Z"/>
<path d="M155.27 183.13L152.42 178.03L158.12 178.03Z"/>
<path d="M157.56 183.87L154.72 178.77L160.41 178.77Z"/>
<path d="M159.86 184.67L157.01 179.57L162.71 179.57Z"/>
<path d="M162.16 185.16L159.31 180.06L165 180.06Z"/>
<path d="M164.45 186.26L161.6 181.16L167.3 181.16Z"/>
<path d="M166.75 186.36L163.9 181.26L169.59 181.26Z"/>
<path d="M169.04 186.22L166.19 181.12L171.89 181.12Z"/>
<path d="M171.34 187.59L168.49 182.49L174.19 182.49Z"/>
<path d="M173.63 188.09L170.78 182.99L176.48 182.99Z"/>
<path d="M175.93 189.02L173.08 183.92L178.78 183.92Z"/>
<path d="M178.22 189.48L175.37 184.38L181.07 184.38Z"/>
<path d="M180.52 189.81L177.67 184.71L183.37 184.71Z"/>
<path d="M182.81 189.6L179.96 184.5L185.66 184.5Z"/>
<path d="M185.11 189.45L182.26 184.35L187.96 184.35Z"/>
<path d="M187.4 189.84L184.55 184.74L190.25 184.74Z"/>
<path d="M189.69 189.93L186.84 184.83L192.54 184.83Z"/>
<path d="M191.99 189.64L189.14 184.54L194.84 184.54Z"/>
<path d="M194.28 189.76L191.44 184.66L197.13 184.66Z"/>
<path d="M196.58 189.95L193.73 184.85L199.43 184.85Z"/>
<path d="M198.88 190.26L196.03 185.16L201.72 185.16Z"/>
<path d="M201.17 190.94L198.32 185.84L204.02 185.84Z"/>
<path d="M203.47 189.47L200.62 184.37L206.31 184.37Z"/>
<path d="M205.76 189.53L202.91 184.43L208.61 184.43Z"/>
<path d="M208.06 188.88L205.21 183.78L210.91 183.78Z"/>
<path d="M210.35 191.45L207.5 186.35L213.2 186.35Z"/>
<path d="M212.65 190.55L209.8 185.45L215.5 185.45Z"/>
<path d="M214.94 190.61L212.09 185.51L217.79 185.51Z"/>
<path d="M217.24 190.63L214.39 185.53L220.09 185.53Z"/>
<path d="M219.53 190.35L216.68 185.25L222.38 185.25Z"/>
<path d="M221.83 191.51L218.98 186.41L224.68 186.41Z"/>
<path d="M224.12 191.58L221.27 186.48L226.97 186.48Z"/>
<path d="M226.42 191.42L223.57 186.32L229.27 186.32Z"/>
<path d="M228.71 193.05L225.86 187.95L231.56 187.95Z"/>
<path d="M231.01 193.97L228.16 188.87L233.86 188.87Z"/>
</g>
<path d="M184 183.65H231.5" stroke="#000" stroke-width="2.5" fill="none"/>
<path d="M179 186.9H229.5" stroke="#000" stroke-width="1.9" fill="none"/>
<g stroke="#ff0000" stroke-width="0.9" fill="none" filter="url(#bl)">
<path d="M185.5 41.85H223.6"/>
<path d="M185.5 39.05v5.6M223.6 39.05v5.6"/>
<path d="M201.55 38.85L207.55 44.85M201.55 44.85L207.55 38.85"/>
</g>
<g stroke="#00ff00" stroke-width="0.9" fill="none" filter="url(#bl)">
<path d="M185.5 55.1H223.6" stroke-dasharray="2.7 2.0"/>
<path d="M185.5 52.3v5.6M223.6 52.3v5.6"/>
<rect x="201.55" y="52.1" width="6" height="6"/>
</g>
<g stroke="#0000ff" stroke-width="0.9" fill="none" filter="url(#bl)">
<path d="M185.5 68.4H223.6" stroke-dasharray="1.6 2.2"/>
<path d="M185.5 65.6v5.6M223.6 65.6v5.6"/>
<circle cx="204.55" cy="68.4" r="3"/>
</g>
<g stroke="#ff00ff" stroke-width="0.9" fill="none" filter="url(#bl)">
<path d="M185.5 81.7H223.6" stroke-dasharray="0.8 1.0"/>
<path d="M185.5 78.9v5.6M223.6 78.9v5.6"/>
<path d="M204.55 78.55L201.7 83.65L207.4 83.65Z"/>
</g>
<g stroke="#00ffff" stroke-width="0.9" fill="none" filter="url(#bl)">
<path d="M185.5 95H223.6" stroke-dasharray="4.5 1.6 0.9 1.6"/>
<path d="M185.5 92.2v5.6M223.6 92.2v5.6"/>
<path d="M204.55 98.15L201.7 93.05L207.4 93.05Z"/>
</g>
<path d="M185.5 108.3H223.6" stroke="#000" stroke-width="2.1"/>
<path d="M48.4 197.2v-5.4M48.4 26.6v5.4M94.3 197.2v-5.4M94.3 26.6v5.4M140.2 197.2v-5.4M140.2 26.6v5.4M186.1 197.2v-5.4M186.1 26.6v5.4M232 197.2v-5.4M232 26.6v5.4M71.35 197.2v-2.9M71.35 26.6v2.9M117.25 197.2v-2.9M117.25 26.6v2.9M163.15 197.2v-2.9M163.15 26.6v2.9M209.05 197.2v-2.9M209.05 26.6v2.9M48.4 187.6h5.4M232 187.6h-5.4M48.4 145.3h5.4M232 145.3h-5.4M48.4 103h5.4M232 103h-5.4M48.4 60.7h5.4M232 60.7h-5.4M48.4 166.45h2.9M232 166.45h-2.9M48.4 124.15h2.9M232 124.15h-2.9M48.4 81.85h2.9M232 81.85h-2.9M48.4 39.55h2.9M232 39.55h-2.9" stroke="#000" stroke-width="1.05" fill="none"/>
<rect x="48.4" y="26.6" width="183.6" height="170.6" stroke="#000" stroke-width="1.3" fill="none"/>
<clipPath id="c2"><rect x="284" y="22.6" width="192.2" height="178.6"/></clipPath>
<g clip-path="url(#c2)">
<g stroke="#ff0000" stroke-width="0.8" fill="none" filter="url(#bl)">
<path d="M305.42 27.64L305.42 37.04M302.62 27.64L308.22 27.64M302.62 37.04L308.22 37.04M307.72 35.73L307.72 42.83M304.92 35.73L310.52 35.73M304.92 42.83L310.52 42.83M310.02 41.28L310.02 47.62M307.22 41.28L312.82 41.28M307.22 47.62L312.82 47.62M312.32 48.11L312.32 54.59M309.52 48.11L315.12 48.11M309.52 54.59L315.12 54.59M314.63 54.49L314.63 59.96M311.83 54.49L317.43 54.49M311.83 59.96L317.43 59.96M316.93 58.65L316.93 64.06M314.13 58.65L319.73 58.65M314.13 64.06L319.73 64.06M319.23 61.9L319.23 67.26M316.43 61.9L322.03 61.9M316.43 67.26L322.03 67.26M321.54 68.25L321.54 73.75M318.74 68.25L324.34 68.25M318.74 73.75L324.34 73.75M323.84 70.11L323.84 76.25M321.04 70.11L326.64 70.11M321.04 76.25L326.64 76.25M326.14 74.42L326.14 80.23M323.34 74.42L328.94 74.42M323.34 80.23L328.94 80.23M328.44 79.46L328.44 86.1M325.64 79.46L331.24 79.46M325.64 86.1L331.24 86.1M330.75 82.98L330.75 88.6M327.94 82.98L333.55 82.98M327.94 88.6L333.55 88.6M333.05 86.65L333.05 92.31M330.25 86.65L335.85 86.65M330.25 92.31L335.85 92.31M335.35 89.07L335.35 95.64M332.55 89.07L338.15 89.07M332.55 95.64L338.15 95.64M337.65 91.79L337.65 98.04M334.85 91.79L340.45 91.79M334.85 98.04L340.45 98.04M339.95 95.18L339.95 100.95M337.15 95.18L342.75 95.18M337.15 100.95L342.75 100.95M342.26 95.12L342.26 100.33M339.46 95.12L345.06 95.12M339.46 100.33L345.06 100.33M344.56 97.08L344.56 102.55M341.76 97.08L347.36 97.08M341.76 102.55L347.36 102.55M346.86 98.09L346.86 103.76M344.06 98.09L349.66 98.09M344.06 103.76L349.66 103.76M349.17 98.69L349.17 104.84M346.37 98.69L351.97 98.69M346.37 104.84L351.97 104.84M351.47 100.4L351.47 106.93M348.67 100.4L354.27 100.4M348.67 106.93L354.27 106.93M353.77 103.83L353.77 110.19M350.97 103.83L356.57 103.83M350.97 110.19L356.57 110.19M356.07 105.27L356.07 111.35M353.27 105.27L358.87 105.27M353.27 111.35L358.87 111.35M358.38 108.49L358.38 115.28M355.57 108.49L361.18 108.49M355.57 115.28L361.18 115.28M360.68 107.65L360.68 114.73M357.88 107.65L363.48 107.65M357.88 114.73L363.48 114.73M362.98 108.85L362.98 114.39M360.18 108.85L365.78 108.85M360.18 114.39L365.78 114.39M365.28 109.31L365.28 114.98M362.48 109.31L368.08 109.31M362.48 114.98L368.08 114.98M367.58 114.2L367.58 120.59M364.78 114.2L370.38 114.2M364.78 120.59L370.38 120.59M369.89 116.6L369.89 123.83M367.09 116.6L372.69 116.6M367.09 123.83L372.69 123.83M372.19 116.75L372.19 123.91M369.39 116.75L374.99 116.75M369.39 123.91L374.99 123.91M374.49 118.72L374.49 126.44M371.69 118.72L377.29 118.72M371.69 126.44L377.29 126.44M376.8 118.55L376.8 126.36M374 118.55L379.6 118.55M374 126.36L379.6 126.36M379.1 119.39L379.1 128.07M376.3 119.39L381.9 119.39M376.3 128.07L381.9 128.07M381.4 121.29L381.4 130.88M378.6 121.29L384.2 121.29M378.6 130.88L384.2 130.88M383.7 122.13L383.7 130.14M380.9 122.13L386.5 122.13M380.9 130.14L386.5 130.14M386 125.08L386 135.69M383.2 125.08L388.81 125.08M383.2 135.69L388.81 135.69M388.31 123.39L388.31 136.55M385.51 123.39L391.11 123.39M385.51 136.55L391.11 136.55M390.61 125.43L390.61 138.53M387.81 125.43L393.41 125.43M387.81 138.53L393.41 138.53M392.91 129.41L392.91 143.21M390.11 129.41L395.71 129.41M390.11 143.21L395.71 143.21M395.21 132.85L395.21 150.64M392.41 132.85L398.01 132.85M392.41 150.64L398.01 150.64M397.52 134.68L397.52 150.3M394.72 134.68L400.32 134.68M394.72 150.3L400.32 150.3M399.82 134.97L399.82 154.43M397.02 134.97L402.62 134.97M397.02 154.43L402.62 154.43M402.12 136.65L402.12 155.03M399.32 136.65L404.92 136.65M399.32 155.03L404.92 155.03M404.43 135.8L404.43 158.02M401.62 135.8L407.23 135.8M401.62 158.02L407.23 158.02M406.73 140.93L406.73 160.2M403.93 140.93L409.53 140.93M403.93 160.2L409.53 160.2M409.03 142.75L409.03 162.84M406.23 142.75L411.83 142.75M406.23 162.84L411.83 162.84M411.33 139.93L411.33 158.65M408.53 139.93L414.13 139.93M408.53 158.65L414.13 158.65M413.63 129.41L413.63 152.8M410.83 129.41L416.44 129.41M410.83 152.8L416.44 152.8M415.94 136.78L415.94 159.21M413.14 136.78L418.74 136.78M413.14 159.21L418.74 159.21M418.24 139.81L418.24 165.53M415.44 139.81L421.04 139.81M415.44 165.53L421.04 165.53M420.54 137.29L420.54 164.72M417.74 137.29L423.34 137.29M417.74 164.72L423.34 164.72M422.84 109.5L422.84 153.76M420.04 109.5L425.64 109.5M420.04 153.76L425.64 153.76M425.15 130.29L425.15 149.26M422.35 130.29L427.95 130.29M422.35 149.26L427.95 149.26M427.45 132.29L427.45 161.8M424.65 132.29L430.25 132.29M424.65 161.8L430.25 161.8M429.75 121L429.75 151.31M426.95 121L432.55 121M426.95 151.31L432.55 151.31M432.06 122.69L432.06 161.92M429.25 122.69L434.86 122.69M429.25 161.92L434.86 161.92M434.36 125.4L434.36 156.61M431.56 125.4L437.16 125.4M431.56 156.61L437.16 156.61M438.96 117.5L438.96 162.5M436.16 117.5L441.76 117.5M436.16 162.5L441.76 162.5M441.26 116.18L441.26 164.08M438.46 116.18L444.06 116.18M438.46 164.08L444.06 164.08M445.87 103.46L445.87 165.11M443.07 103.46L448.67 103.46M443.07 165.11L448.67 165.11M448.17 26.6L448.17 197.2M450.47 64L450.47 197.2M447.67 64L453.27 64M455.08 26.6L455.08 197.2M457.38 105L457.38 185M454.58 105L460.18 105M454.58 185L460.18 185M464.29 26.6L464.29 197.2M466.59 74L466.59 197.2M463.79 74L469.39 74"/>
<path d="M302.42 29.34L308.42 35.34M302.42 35.34L308.42 29.34"/>
<path d="M304.72 36.28L310.72 42.28M304.72 42.28L310.72 36.28"/>
<path d="M307.02 41.45L313.02 47.45M307.02 47.45L313.02 41.45"/>
<path d="M309.32 48.35L315.32 54.35M309.32 54.35L315.32 48.35"/>
<path d="M311.63 54.23L317.63 60.23M311.63 60.23L317.63 54.23"/>
<path d="M313.93 58.35L319.93 64.35M313.93 64.35L319.93 58.35"/>
<path d="M316.23 61.58L322.23 67.58M316.23 67.58L322.23 61.58"/>
<path d="M318.54 68L324.54 74M318.54 74L324.54 68"/>
<path d="M320.84 70.18L326.84 76.18M320.84 76.18L326.84 70.18"/>
<path d="M323.14 74.32L329.14 80.32M323.14 80.32L329.14 74.32"/>
<path d="M325.44 79.78L331.44 85.78M325.44 85.78L331.44 79.78"/>
<path d="M327.75 82.79L333.75 88.79M327.75 88.79L333.75 82.79"/>
<path d="M330.05 86.48L336.05 92.48M330.05 92.48L336.05 86.48"/>
<path d="M332.35 89.36L338.35 95.36M332.35 95.36L338.35 89.36"/>
<path d="M334.65 91.92L340.65 97.92M334.65 97.92L340.65 91.92"/>
<path d="M336.95 95.07L342.95 101.07M336.95 101.07L342.95 95.07"/>
<path d="M339.26 94.73L345.26 100.73M339.26 100.73L345.26 94.73"/>
<path d="M341.56 96.81L347.56 102.81M341.56 102.81L347.56 96.81"/>
<path d="M343.86 97.93L349.86 103.93M343.86 103.93L349.86 97.93"/>
<path d="M346.17 98.77L352.17 104.77M346.17 104.77L352.17 98.77"/>
<path d="M348.47 100.66L354.47 106.66M348.47 106.66L354.47 100.66"/>
<path d="M350.77 104.01L356.77 110.01M350.77 110.01L356.77 104.01"/>
<path d="M353.07 105.31L359.07 111.31M353.07 111.31L359.07 105.31"/>
<path d="M355.38 108.88L361.38 114.88M355.38 114.88L361.38 108.88"/>
<path d="M357.68 108.19L363.68 114.19M357.68 114.19L363.68 108.19"/>
<path d="M359.98 108.62L365.98 114.62M359.98 114.62L365.98 108.62"/>
<path d="M362.28 109.15L368.28 115.15M362.28 115.15L368.28 109.15"/>
<path d="M364.58 114.39L370.58 120.39M364.58 120.39L370.58 114.39"/>
<path d="M366.89 117.21L372.89 123.21M366.89 123.21L372.89 117.21"/>
<path d="M369.19 117.33L375.19 123.33M369.19 123.33L375.19 117.33"/>
<path d="M371.49 119.58L377.49 125.58M371.49 125.58L377.49 119.58"/>
<path d="M373.8 119.46L379.8 125.46M373.8 125.46L379.8 119.46"/>
<path d="M376.1 120.73L382.1 126.73M376.1 126.73L382.1 120.73"/>
<path d="M378.4 123.08L384.4 129.08M378.4 129.08L384.4 123.08"/>
<path d="M380.7 123.14L386.7 129.14M380.7 129.14L386.7 123.14"/>
<path d="M383 127.39L389 133.39M383 133.39L389 127.39"/>
<path d="M385.31 126.97L391.31 132.97M385.31 132.97L391.31 126.97"/>
<path d="M387.61 128.98L393.61 134.98M387.61 134.98L393.61 128.98"/>
<path d="M389.91 133.31L395.91 139.31M389.91 139.31L395.91 133.31"/>
<path d="M392.21 138.74L398.21 144.74M392.21 144.74L398.21 138.74"/>
<path d="M394.52 139.49L400.52 145.49M394.52 145.49L400.52 139.49"/>
<path d="M396.82 141.7L402.82 147.7M396.82 147.7L402.82 141.7"/>
<path d="M399.12 142.84L405.12 148.84M399.12 148.84L405.12 142.84"/>
<path d="M401.43 143.91L407.43 149.91M401.43 149.91L407.43 143.91"/>
<path d="M403.73 147.56L409.73 153.56M403.73 153.56L409.73 147.56"/>
<path d="M406.03 149.8L412.03 155.8M406.03 155.8L412.03 149.8"/>
<path d="M408.33 146.29L414.33 152.29M408.33 152.29L414.33 146.29"/>
<path d="M410.63 138.1L416.63 144.1M410.63 144.1L416.63 138.1"/>
<path d="M412.94 145L418.94 151M412.94 151L418.94 145"/>
<path d="M415.24 149.67L421.24 155.67M415.24 155.67L421.24 149.67"/>
<path d="M417.54 148.01L423.54 154.01M417.54 154.01L423.54 148.01"/>
<path d="M419.84 137.67L425.84 143.67M419.84 143.67L425.84 137.67"/>
<path d="M422.15 136.77L428.15 142.77M422.15 142.77L428.15 136.77"/>
<path d="M424.45 144.05L430.45 150.05M424.45 150.05L430.45 144.05"/>
<path d="M426.75 132.16L432.75 138.16M426.75 138.16L432.75 132.16"/>
<path d="M429.06 139.31L435.06 145.31M429.06 145.31L435.06 139.31"/>
<path d="M431.36 138L437.36 144M431.36 144L437.36 138"/>
<path d="M435.96 141.61L441.96 147.61M435.96 147.61L441.96 141.61"/>
<path d="M438.26 137.13L444.26 143.13M438.26 143.13L444.26 137.13"/>
<path d="M442.87 131.28L448.87 137.28M442.87 137.28L448.87 131.28"/>
<path d="M445.17 99.5L451.17 105.5M445.17 105.5L451.17 99.5"/>
<path d="M447.47 117L453.47 123M447.47 123L453.47 117"/>
<path d="M452.08 107L458.08 113M452.08 113L458.08 107"/>
<path d="M454.38 72L460.38 78M454.38 78L460.38 72"/>
<path d="M461.29 81L467.29 87M461.29 87L467.29 81"/>
<path d="M463.59 102L469.59 108M463.59 108L469.59 102"/>
</g>
<g stroke="#00ff00" stroke-width="0.8" fill="none" filter="url(#bl)">
<path d="M291.6 26.6L291.6 29.2M288.8 29.2L294.4 29.2M300.81 67.7L300.81 105.7M298.01 67.7L303.61 67.7M298.01 105.7L303.61 105.7M303.12 74.7L303.12 98.7M300.31 74.7L305.92 74.7M300.31 98.7L305.92 98.7M305.42 89.9L305.42 101.25M302.62 89.9L308.22 89.9M302.62 101.25L308.22 101.25M307.72 101.93L307.72 109.09M304.92 101.93L310.52 101.93M304.92 109.09L310.52 109.09M310.02 108.14L310.02 114.57M307.22 108.14L312.82 108.14M307.22 114.57L312.82 114.57M312.32 114.6L312.32 120.58M309.52 114.6L315.12 114.6M309.52 120.58L315.12 120.58M314.63 114.36L314.63 119.46M311.83 114.36L317.43 114.36M311.83 119.46L317.43 119.46M316.93 114.74L316.93 120.59M314.13 114.74L319.73 114.74M314.13 120.59L319.73 120.59M319.23 116.87L319.23 123.69M316.43 116.87L322.03 116.87M316.43 123.69L322.03 123.69M321.54 123.78L321.54 130.11M318.74 123.78L324.34 123.78M318.74 130.11L324.34 130.11M323.84 128.19L323.84 133.44M321.04 128.19L326.64 128.19M321.04 133.44L326.64 133.44M326.14 133.7L326.14 137.15M323.34 133.7L328.94 133.7M323.34 137.15L328.94 137.15M328.44 137.53L328.44 141.09M325.64 137.53L331.24 137.53M325.64 141.09L331.24 141.09M330.75 138.07L330.75 141.12M327.94 138.07L333.55 138.07M327.94 141.12L333.55 141.12M333.05 139.7L333.05 142.07M330.25 139.7L335.85 139.7M330.25 142.07L335.85 142.07M335.35 141.88L335.35 144.58M332.55 141.88L338.15 141.88M332.55 144.58L338.15 144.58M337.65 142.83L337.65 145.2M334.85 142.83L340.45 142.83M334.85 145.2L340.45 145.2M339.95 143.25L339.95 145.67M337.15 143.25L342.75 143.25M337.15 145.67L342.75 145.67M342.26 143.59L342.26 145.96M339.46 143.59L345.06 143.59M339.46 145.96L345.06 145.96M344.56 144.51L344.56 147.31M341.76 144.51L347.36 144.51M341.76 147.31L347.36 147.31M346.86 145.58L346.86 148.58M344.06 145.58L349.66 145.58M344.06 148.58L349.66 148.58M349.17 145.49L349.17 149.79M346.37 145.49L351.97 145.49M346.37 149.79L351.97 149.79M351.47 145.52L351.47 149.44M348.67 145.52L354.27 145.52M348.67 149.44L354.27 149.44M353.77 146.07L353.77 150.47M350.97 146.07L356.57 146.07M350.97 150.47L356.57 150.47M356.07 146.33L356.07 152.09M353.27 146.33L358.87 146.33M353.27 152.09L358.87 152.09M358.38 147.47L358.38 154.47M355.57 147.47L361.18 147.47M355.57 154.47L361.18 154.47M360.68 147.66L360.68 153.77M357.88 147.66L363.48 147.66M357.88 153.77L363.48 153.77M362.98 149.76L362.98 156.68M360.18 149.76L365.78 149.76M360.18 156.68L365.78 156.68M365.28 148.44L365.28 158.05M362.48 148.44L368.08 148.44M362.48 158.05L368.08 158.05M367.58 151.76L367.58 160.39M364.78 151.76L370.38 151.76M364.78 160.39L370.38 160.39M369.89 154.68L369.89 164.63M367.09 154.68L372.69 154.68M367.09 164.63L372.69 164.63M372.19 152.54L372.19 161.59M369.39 152.54L374.99 152.54M369.39 161.59L374.99 161.59M374.49 151.64L374.49 162.11M371.69 151.64L377.29 151.64M371.69 162.11L377.29 162.11M376.8 151.79L376.8 163.96M374 151.79L379.6 151.79M374 163.96L379.6 163.96M379.1 155.27L379.1 165.38M376.3 155.27L381.9 155.27M376.3 165.38L381.9 165.38M381.4 152.44L381.4 163.22M378.6 152.44L384.2 152.44M378.6 163.22L384.2 163.22M383.7 156.36L383.7 168.09M380.9 156.36L386.5 156.36M380.9 168.09L386.5 168.09M386 157.88L386 170.89M383.2 157.88L388.81 157.88M383.2 170.89L388.81 170.89M388.31 155.62L388.31 169.29M385.51 155.62L391.11 155.62M385.51 169.29L391.11 169.29M390.61 157.56L390.61 172.45M387.81 157.56L393.41 157.56M387.81 172.45L393.41 172.45M392.91 159.91L392.91 174.73M390.11 159.91L395.71 159.91M390.11 174.73L395.71 174.73M395.21 157.36L395.21 172.46M392.41 157.36L398.01 157.36M392.41 172.46L398.01 172.46M397.52 162.71L397.52 177.1M394.72 162.71L400.32 162.71M394.72 177.1L400.32 177.1M399.82 167.05L399.82 180.8M397.02 167.05L402.62 167.05M397.02 180.8L402.62 180.8M402.12 166.9L402.12 182.68M399.32 166.9L404.92 166.9M399.32 182.68L404.92 182.68M404.43 165.72L404.43 184.77M401.62 165.72L407.23 165.72M401.62 184.77L407.23 184.77M406.73 167.44L406.73 188.95M403.93 167.44L409.53 167.44M403.93 188.95L409.53 188.95M409.03 166.14L409.03 189.09M406.23 166.14L411.83 166.14M406.23 189.09L411.83 189.09M411.33 175.98L411.33 196.01M408.53 175.98L414.13 175.98M408.53 196.01L414.13 196.01M413.63 161.02L413.63 183.37M410.83 161.02L416.44 161.02M410.83 183.37L416.44 183.37M415.94 171.56L415.94 189.17M413.14 171.56L418.74 171.56M413.14 189.17L418.74 189.17M418.24 164.34L418.24 189.7M415.44 164.34L421.04 164.34M415.44 189.7L421.04 189.7M420.54 162.71L420.54 179.15M417.74 162.71L423.34 162.71M417.74 179.15L423.34 179.15M422.84 169.1L422.84 188.11M420.04 169.1L425.64 169.1M420.04 188.11L425.64 188.11M425.15 151.23L425.15 184.49M422.35 151.23L427.95 151.23M422.35 184.49L427.95 184.49M427.45 158.41L427.45 195.84M424.65 158.41L430.25 158.41M424.65 195.84L430.25 195.84M429.75 143.52L429.75 181.1M426.95 143.52L432.55 143.52M426.95 181.1L432.55 181.1M434.36 153.31L434.36 193.9M431.56 153.31L437.16 153.31M431.56 193.9L437.16 193.9M436.66 134.03L436.66 197.2M433.86 134.03L439.46 134.03M443.57 128.32L443.57 197.2M440.77 128.32L446.37 128.32M448.17 42.5L448.17 197.2M445.37 42.5L450.97 42.5M452.78 26.6L452.78 197.2M457.38 80L457.38 197.2M454.58 80L460.18 80M459.69 70L459.69 172M456.88 70L462.49 70M456.88 172L462.49 172M461.99 95L461.99 197.2M459.19 95L464.79 95M468.9 100L468.9 197.2M466.1 100L471.7 100" stroke-dasharray="2.7 2.0"/>
<rect x="288.6" y="23.7" width="6" height="6"/>
<rect x="297.81" y="83.7" width="6" height="6"/>
<rect x="300.12" y="83.7" width="6" height="6"/>
<rect x="302.42" y="92.58" width="6" height="6"/>
<rect x="304.72" y="102.51" width="6" height="6"/>
<rect x="307.02" y="108.35" width="6" height="6"/>
<rect x="309.32" y="114.59" width="6" height="6"/>
<rect x="311.63" y="113.91" width="6" height="6"/>
<rect x="313.93" y="114.67" width="6" height="6"/>
<rect x="316.23" y="117.28" width="6" height="6"/>
<rect x="318.54" y="123.94" width="6" height="6"/>
<rect x="320.84" y="127.82" width="6" height="6"/>
<rect x="323.14" y="132.42" width="6" height="6"/>
<rect x="325.44" y="136.31" width="6" height="6"/>
<rect x="327.75" y="136.6" width="6" height="6"/>
<rect x="330.05" y="137.88" width="6" height="6"/>
<rect x="332.35" y="140.23" width="6" height="6"/>
<rect x="334.65" y="141.02" width="6" height="6"/>
<rect x="336.95" y="141.46" width="6" height="6"/>
<rect x="339.26" y="141.78" width="6" height="6"/>
<rect x="341.56" y="142.91" width="6" height="6"/>
<rect x="343.86" y="144.08" width="6" height="6"/>
<rect x="346.17" y="144.64" width="6" height="6"/>
<rect x="348.47" y="144.48" width="6" height="6"/>
<rect x="350.77" y="145.27" width="6" height="6"/>
<rect x="353.07" y="146.21" width="6" height="6"/>
<rect x="355.38" y="147.97" width="6" height="6"/>
<rect x="357.68" y="147.71" width="6" height="6"/>
<rect x="359.98" y="150.22" width="6" height="6"/>
<rect x="362.28" y="150.25" width="6" height="6"/>
<rect x="364.58" y="153.08" width="6" height="6"/>
<rect x="366.89" y="156.65" width="6" height="6"/>
<rect x="369.19" y="154.07" width="6" height="6"/>
<rect x="371.49" y="153.88" width="6" height="6"/>
<rect x="373.8" y="154.87" width="6" height="6"/>
<rect x="376.1" y="157.32" width="6" height="6"/>
<rect x="378.4" y="154.83" width="6" height="6"/>
<rect x="380.7" y="159.22" width="6" height="6"/>
<rect x="383" y="161.39" width="6" height="6"/>
<rect x="385.31" y="159.46" width="6" height="6"/>
<rect x="387.61" y="162" width="6" height="6"/>
<rect x="389.91" y="164.32" width="6" height="6"/>
<rect x="392.21" y="161.91" width="6" height="6"/>
<rect x="394.52" y="166.9" width="6" height="6"/>
<rect x="396.82" y="170.92" width="6" height="6"/>
<rect x="399.12" y="171.79" width="6" height="6"/>
<rect x="401.43" y="172.24" width="6" height="6"/>
<rect x="403.73" y="175.2" width="6" height="6"/>
<rect x="406.03" y="174.61" width="6" height="6"/>
<rect x="408.33" y="182.99" width="6" height="6"/>
<rect x="410.63" y="169.2" width="6" height="6"/>
<rect x="412.94" y="177.36" width="6" height="6"/>
<rect x="415.24" y="174.02" width="6" height="6"/>
<rect x="417.54" y="167.93" width="6" height="6"/>
<rect x="419.84" y="175.61" width="6" height="6"/>
<rect x="422.15" y="164.86" width="6" height="6"/>
<rect x="424.45" y="174.13" width="6" height="6"/>
<rect x="426.75" y="159.31" width="6" height="6"/>
<rect x="431.36" y="170.6" width="6" height="6"/>
<rect x="433.66" y="168.24" width="6" height="6"/>
<rect x="440.57" y="160.46" width="6" height="6"/>
<rect x="445.17" y="107" width="6" height="6"/>
<rect x="449.78" y="93" width="6" height="6"/>
<rect x="454.38" y="53" width="6" height="6"/>
<rect x="456.69" y="131" width="6" height="6"/>
<rect x="458.99" y="103" width="6" height="6"/>
<rect x="465.9" y="162" width="6" height="6"/>
</g>
<g stroke="#0000ff" stroke-width="0.8" fill="none" filter="url(#bl)">
<path d="M289.3 29L289.3 35M286.5 29L292.1 29M286.5 35L292.1 35M291.6 54L291.6 66M288.8 54L294.4 54M288.8 66L294.4 66M293.91 40L293.91 50M291.11 40L296.71 40M291.11 50L296.71 50M296.21 47L296.21 59M293.41 47L299.01 47M293.41 59L299.01 59M298.51 43L298.51 57M295.71 43L301.31 43M295.71 57L301.31 57M300.81 102L300.81 160M298.01 102L303.61 102M298.01 160L303.61 160M303.12 111L303.12 141M300.31 111L305.92 111M300.31 141L305.92 141M305.42 121L305.42 141M302.62 121L308.22 121M302.62 141L308.22 141M307.72 139.29L307.72 150.28M304.92 139.29L310.52 139.29M304.92 150.28L310.52 150.28M310.02 140.29L310.02 149.7M307.22 140.29L312.82 140.29M307.22 149.7L312.82 149.7M312.32 140.81L312.32 149.7M309.52 140.81L315.12 140.81M309.52 149.7L315.12 149.7M314.63 139.88L314.63 148.32M311.83 139.88L317.43 139.88M311.83 148.32L317.43 148.32M316.93 143.12L316.93 149.06M314.13 143.12L319.73 143.12M314.13 149.06L319.73 149.06M319.23 143.63L319.23 150.36M316.43 143.63L322.03 143.63M316.43 150.36L322.03 150.36M321.54 146.13L321.54 150.56M318.74 146.13L324.34 146.13M318.74 150.56L324.34 150.56M323.84 145.47L323.84 150.68M321.04 145.47L326.64 145.47M321.04 150.68L326.64 150.68M326.14 150.04L326.14 154.46M323.34 150.04L328.94 150.04M323.34 154.46L328.94 154.46M328.44 151.25L328.44 155.13M325.64 151.25L331.24 151.25M325.64 155.13L331.24 155.13M330.75 155.43L330.75 158.55M327.94 155.43L333.55 155.43M327.94 158.55L333.55 158.55M333.05 158.88L333.05 161.03M330.25 158.88L335.85 158.88M330.25 161.03L335.85 161.03M335.35 157.52L335.35 159.58M332.55 157.52L338.15 157.52M332.55 159.58L338.15 159.58M337.65 159.37L337.65 161.3M334.85 159.37L340.45 159.37M334.85 161.3L340.45 161.3M339.95 159.05L339.95 160.77M337.15 159.05L342.75 159.05M337.15 160.77L342.75 160.77M342.26 158.73L342.26 160.43M339.46 158.73L345.06 158.73M339.46 160.43L345.06 160.43M344.56 158.29L344.56 159.84M341.76 158.29L347.36 158.29M341.76 159.84L347.36 159.84M346.86 160.63L346.86 162.06M344.06 160.63L349.66 160.63M344.06 162.06L349.66 162.06M349.17 160.44L349.17 162.24M346.37 160.44L351.97 160.44M346.37 162.24L351.97 162.24M351.47 161.7L351.47 163.21M348.67 161.7L354.27 161.7M348.67 163.21L354.27 163.21M353.77 160.62L353.77 162.46M350.97 160.62L356.57 160.62M350.97 162.46L356.57 162.46M356.07 160.4L356.07 162.22M353.27 160.4L358.87 160.4M353.27 162.22L358.87 162.22M358.38 160.05L358.38 161.7M355.57 160.05L361.18 160.05M355.57 161.7L361.18 161.7M360.68 160.98L360.68 162.54M357.88 160.98L363.48 160.98M357.88 162.54L363.48 162.54M362.98 160.91L362.98 162.82M360.18 160.91L365.78 160.91M360.18 162.82L365.78 162.82M365.28 161.59L365.28 164.6M362.48 161.59L368.08 161.59M362.48 164.6L368.08 164.6M367.58 161.15L367.58 164.97M364.78 161.15L370.38 161.15M364.78 164.97L370.38 164.97M369.89 163.16L369.89 167.46M367.09 163.16L372.69 163.16M367.09 167.46L372.69 167.46M372.19 162.89L372.19 169.03M369.39 162.89L374.99 162.89M369.39 169.03L374.99 169.03M374.49 165.41L374.49 170.51M371.69 165.41L377.29 165.41M371.69 170.51L377.29 170.51M376.8 167.09L376.8 173.05M374 167.09L379.6 167.09M374 173.05L379.6 173.05M379.1 167.63L379.1 174.93M376.3 167.63L381.9 167.63M376.3 174.93L381.9 174.93M381.4 171.05L381.4 177.43M378.6 171.05L384.2 171.05M378.6 177.43L384.2 177.43M383.7 170.94L383.7 178.98M380.9 170.94L386.5 170.94M380.9 178.98L386.5 178.98M386 175.1L386 183.43M383.2 175.1L388.81 175.1M383.2 183.43L388.81 183.43M388.31 177.76L388.31 185.63M385.51 177.76L391.11 177.76M385.51 185.63L391.11 185.63M390.61 179.06L390.61 188.52M387.81 179.06L393.41 179.06M387.81 188.52L393.41 188.52M392.91 181.53L392.91 190.18M390.11 181.53L395.71 181.53M390.11 190.18L395.71 190.18M395.21 182.08L395.21 193.05M392.41 182.08L398.01 182.08M392.41 193.05L398.01 193.05M397.52 184.65L397.52 193.69M394.72 184.65L400.32 184.65M394.72 193.69L400.32 193.69M399.82 185.62L399.82 195.82M397.02 185.62L402.62 185.62M397.02 195.82L402.62 195.82M402.12 183.98L402.12 196M399.32 183.98L404.92 183.98M399.32 196L404.92 196M404.43 183.75L404.43 194.97M401.62 183.75L407.23 183.75M401.62 194.97L407.23 194.97M406.73 184.86L406.73 197.2M403.93 184.86L409.53 184.86M409.03 181.48L409.03 194.92M406.23 181.48L411.83 181.48M406.23 194.92L411.83 194.92M411.33 180.16L411.33 194.92M408.53 180.16L414.13 180.16M408.53 194.92L414.13 194.92M413.63 180L413.63 197.2M410.83 180L416.44 180M415.94 176.75L415.94 189.68M413.14 176.75L418.74 176.75M413.14 189.68L418.74 189.68M418.24 167.43L418.24 181.03M415.44 167.43L421.04 167.43M415.44 181.03L421.04 181.03M420.54 164.72L420.54 188.07M417.74 164.72L423.34 164.72M417.74 188.07L423.34 188.07M422.84 156.07L422.84 180.63M420.04 156.07L425.64 156.07M420.04 180.63L425.64 180.63M425.15 160.39L425.15 180.94M422.35 160.39L427.95 160.39M422.35 180.94L427.95 180.94M427.45 160.69L427.45 180.57M424.65 160.69L430.25 160.69M424.65 180.57L430.25 180.57M429.75 151.14L429.75 173.62M426.95 151.14L432.55 151.14M426.95 173.62L432.55 173.62M432.06 144.39L432.06 177.46M429.25 144.39L434.86 144.39M429.25 177.46L434.86 177.46M436.66 132.49L436.66 193.12M433.86 132.49L439.46 132.49M433.86 193.12L439.46 193.12M438.96 147.96L438.96 186.88M436.16 147.96L441.76 147.96M436.16 186.88L441.76 186.88M445.87 126.83L445.87 197.2M443.07 126.83L448.67 126.83M448.17 80L448.17 197.2M445.37 80L450.97 80M452.78 88L452.78 197.2M449.98 88L455.58 88M455.08 60L455.08 197.2M452.28 60L457.88 60M459.69 58L459.69 197.2M456.88 58L462.49 58M461.99 26.6L461.99 197.2M466.59 85L466.59 197.2M463.79 85L469.39 85M468.9 26.6L468.9 197.2" stroke-dasharray="1.6 2.2"/>
<circle cx="289.3" cy="32" r="3"/>
<circle cx="291.6" cy="60" r="3"/>
<circle cx="293.91" cy="45" r="3"/>
<circle cx="296.21" cy="53" r="3"/>
<circle cx="298.51" cy="50" r="3"/>
<circle cx="300.81" cy="131" r="3"/>
<circle cx="303.12" cy="126" r="3"/>
<circle cx="305.42" cy="131" r="3"/>
<circle cx="307.72" cy="144.78" r="3"/>
<circle cx="310.02" cy="144.99" r="3"/>
<circle cx="312.32" cy="145.25" r="3"/>
<circle cx="314.63" cy="144.1" r="3"/>
<circle cx="316.93" cy="146.09" r="3"/>
<circle cx="319.23" cy="146.99" r="3"/>
<circle cx="321.54" cy="148.35" r="3"/>
<circle cx="323.84" cy="148.07" r="3"/>
<circle cx="326.14" cy="152.25" r="3"/>
<circle cx="328.44" cy="153.19" r="3"/>
<circle cx="330.75" cy="156.99" r="3"/>
<circle cx="333.05" cy="159.95" r="3"/>
<circle cx="335.35" cy="158.55" r="3"/>
<circle cx="337.65" cy="160.33" r="3"/>
<circle cx="339.95" cy="159.91" r="3"/>
<circle cx="342.26" cy="159.58" r="3"/>
<circle cx="344.56" cy="159.07" r="3"/>
<circle cx="346.86" cy="161.34" r="3"/>
<circle cx="349.17" cy="161.34" r="3"/>
<circle cx="351.47" cy="162.45" r="3"/>
<circle cx="353.77" cy="161.54" r="3"/>
<circle cx="356.07" cy="161.31" r="3"/>
<circle cx="358.38" cy="160.88" r="3"/>
<circle cx="360.68" cy="161.76" r="3"/>
<circle cx="362.98" cy="161.86" r="3"/>
<circle cx="365.28" cy="163.1" r="3"/>
<circle cx="367.58" cy="163.06" r="3"/>
<circle cx="369.89" cy="165.31" r="3"/>
<circle cx="372.19" cy="165.96" r="3"/>
<circle cx="374.49" cy="167.96" r="3"/>
<circle cx="376.8" cy="170.07" r="3"/>
<circle cx="379.1" cy="171.28" r="3"/>
<circle cx="381.4" cy="174.24" r="3"/>
<circle cx="383.7" cy="174.96" r="3"/>
<circle cx="386" cy="179.27" r="3"/>
<circle cx="388.31" cy="181.7" r="3"/>
<circle cx="390.61" cy="183.79" r="3"/>
<circle cx="392.91" cy="185.85" r="3"/>
<circle cx="395.21" cy="187.57" r="3"/>
<circle cx="397.52" cy="189.17" r="3"/>
<circle cx="399.82" cy="190.72" r="3"/>
<circle cx="402.12" cy="189.99" r="3"/>
<circle cx="404.43" cy="189.36" r="3"/>
<circle cx="406.73" cy="191.89" r="3"/>
<circle cx="409.03" cy="188.2" r="3"/>
<circle cx="411.33" cy="187.54" r="3"/>
<circle cx="413.63" cy="188.62" r="3"/>
<circle cx="415.94" cy="183.21" r="3"/>
<circle cx="418.24" cy="174.23" r="3"/>
<circle cx="420.54" cy="176.4" r="3"/>
<circle cx="422.84" cy="168.35" r="3"/>
<circle cx="425.15" cy="170.66" r="3"/>
<circle cx="427.45" cy="170.63" r="3"/>
<circle cx="429.75" cy="162.38" r="3"/>
<circle cx="432.06" cy="160.92" r="3"/>
<circle cx="436.66" cy="162.8" r="3"/>
<circle cx="438.96" cy="167.42" r="3"/>
<circle cx="445.87" cy="162.37" r="3"/>
<circle cx="448.17" cy="160" r="3"/>
<circle cx="452.78" cy="127.5" r="3"/>
<circle cx="455.08" cy="148.75" r="3"/>
<circle cx="459.69" cy="120" r="3"/>
<circle cx="461.99" cy="59" r="3"/>
<circle cx="466.59" cy="185" r="3"/>
<circle cx="468.9" cy="50" r="3"/>
</g>
<g stroke="#ff00ff" stroke-width="0.8" fill="none" filter="url(#bl)">
<path d="M289.3 32L289.3 56M286.5 32L292.1 32M286.5 56L292.1 56M291.6 38L291.6 66M288.8 38L294.4 38M288.8 66L294.4 66M293.91 48L293.91 84M291.11 48L296.71 48M291.11 84L296.71 84M296.21 44L296.21 76M293.41 44L299.01 44M293.41 76L299.01 76M298.51 50L298.51 94M295.71 50L301.31 50M295.71 94L301.31 94M300.81 147L300.81 175M298.01 147L303.61 147M298.01 175L303.61 175M303.12 136L303.12 168M300.31 136L305.92 136M300.31 168L305.92 168M305.42 137L305.42 163M302.62 137L308.22 137M302.62 163L308.22 163M307.72 139.11L307.72 163.33M304.92 139.11L310.52 139.11M304.92 163.33L310.52 163.33M310.02 139.57L310.02 159.5M307.22 139.57L312.82 139.57M307.22 159.5L312.82 159.5M312.32 143.01L312.32 158.3M309.52 143.01L315.12 143.01M309.52 158.3L315.12 158.3M314.63 144.83L314.63 159.91M311.83 144.83L317.43 144.83M311.83 159.91L317.43 159.91M316.93 143.39L316.93 159.33M314.13 143.39L319.73 143.39M314.13 159.33L319.73 159.33M319.23 146.77L319.23 160.37M316.43 146.77L322.03 146.77M316.43 160.37L322.03 160.37M321.54 148.99L321.54 160.92M318.74 148.99L324.34 148.99M318.74 160.92L324.34 160.92M323.84 151.32L323.84 161.43M321.04 151.32L326.64 151.32M321.04 161.43L326.64 161.43M326.14 152.93L326.14 162.11M323.34 152.93L328.94 152.93M323.34 162.11L328.94 162.11M328.44 157.96L328.44 160.2M325.64 157.96L331.24 157.96M325.64 160.2L331.24 160.2M330.75 160.08L330.75 162.04M327.94 160.08L333.55 160.08M327.94 162.04L333.55 162.04M333.05 162.55L333.05 164.53M330.25 162.55L335.85 162.55M330.25 164.53L335.85 164.53M335.35 163.02L335.35 164.78M332.55 163.02L338.15 163.02M332.55 164.78L338.15 164.78M337.65 164.65L337.65 166.65M334.85 164.65L340.45 164.65M334.85 166.65L340.45 166.65M339.95 164.06L339.95 166.07M337.15 164.06L342.75 164.06M337.15 166.07L342.75 166.07M342.26 164.54L342.26 166.8M339.46 164.54L345.06 164.54M339.46 166.8L345.06 166.8M344.56 163.63L344.56 165.83M341.76 163.63L347.36 163.63M341.76 165.83L347.36 165.83M346.86 165.1L346.86 166.94M344.06 165.1L349.66 165.1M344.06 166.94L349.66 166.94M349.17 165.13L349.17 167.22M346.37 165.13L351.97 165.13M346.37 167.22L351.97 167.22M351.47 164.06L351.47 166.34M348.67 164.06L354.27 164.06M348.67 166.34L354.27 166.34M353.77 165.21L353.77 167.22M350.97 165.21L356.57 165.21M350.97 167.22L356.57 167.22M356.07 165.55L356.07 167.26M353.27 165.55L358.87 165.55M353.27 167.26L358.87 167.26M358.38 164.76L358.38 167.54M355.57 164.76L361.18 164.76M355.57 167.54L361.18 167.54M360.68 163.71L360.68 166.68M357.88 163.71L363.48 163.71M357.88 166.68L363.48 166.68M362.98 164.1L362.98 167.61M360.18 164.1L365.78 164.1M360.18 167.61L365.78 167.61M365.28 166.93L365.28 170.32M362.48 166.93L368.08 166.93M362.48 170.32L368.08 170.32M367.58 165.44L367.58 173.63M364.78 165.44L370.38 165.44M364.78 173.63L370.38 173.63M369.89 164.21L369.89 174.66M367.09 164.21L372.69 164.21M367.09 174.66L372.69 174.66M372.19 165.07L372.19 175.31M369.39 165.07L374.99 165.07M369.39 175.31L374.99 175.31M374.49 167.53L374.49 177.41M371.69 167.53L377.29 167.53M371.69 177.41L377.29 177.41M376.8 167.81L376.8 178.81M374 167.81L379.6 167.81M374 178.81L379.6 178.81M379.1 169.75L379.1 182.16M376.3 169.75L381.9 169.75M376.3 182.16L381.9 182.16M381.4 171.93L381.4 184.76M378.6 171.93L384.2 171.93M378.6 184.76L384.2 184.76M383.7 173.26L383.7 188.63M380.9 173.26L386.5 173.26M380.9 188.63L386.5 188.63M386 175.68L386 187.81M383.2 175.68L388.81 175.68M383.2 187.81L388.81 187.81M388.31 179.08L388.31 192.35M385.51 179.08L391.11 179.08M385.51 192.35L391.11 192.35M390.61 180.09L390.61 194.63M387.81 180.09L393.41 180.09M387.81 194.63L393.41 194.63M392.91 181.69L392.91 197.2M390.11 181.69L395.71 181.69M395.21 184.91L395.21 197.2M392.41 184.91L398.01 184.91M397.52 186.33L397.52 197.2M394.72 186.33L400.32 186.33M399.82 187.04L399.82 197.2M397.02 187.04L402.62 187.04M402.12 184.88L402.12 197.2M399.32 184.88L404.92 184.88M404.43 185.49L404.43 197.2M401.62 185.49L407.23 185.49M406.73 184.61L406.73 197.2M403.93 184.61L409.53 184.61M409.03 180.25L409.03 197.2M406.23 180.25L411.83 180.25M411.33 180.27L411.33 197.2M408.53 180.27L414.13 180.27M413.63 166.43L413.63 192.81M410.83 166.43L416.44 166.43M410.83 192.81L416.44 192.81M415.94 157.48L415.94 188.31M413.14 157.48L418.74 157.48M413.14 188.31L418.74 188.31M418.24 177.77L418.24 197.2M415.44 177.77L421.04 177.77M420.54 163.16L420.54 186.72M417.74 163.16L423.34 163.16M417.74 186.72L423.34 186.72M422.84 163.43L422.84 190.63M420.04 163.43L425.64 163.43M420.04 190.63L425.64 190.63M425.15 148.39L425.15 197.2M422.35 148.39L427.95 148.39M427.45 145.03L427.45 183.74M424.65 145.03L430.25 145.03M424.65 183.74L430.25 183.74M429.75 143.8L429.75 185.79M426.95 143.8L432.55 143.8M426.95 185.79L432.55 185.79M434.36 141.31L434.36 197.2M431.56 141.31L437.16 141.31M438.96 127.34L438.96 197.2M436.16 127.34L441.76 127.34M441.26 125.85L441.26 195.84M438.46 125.85L444.06 125.85M438.46 195.84L444.06 195.84M450.47 75L450.47 197.2M447.67 75L453.27 75M457.38 26.6L457.38 197.2M461.99 26.6L461.99 197.2M464.29 42L464.29 197.2M461.49 42L467.09 42M466.59 100L466.59 197.2M463.79 100L469.39 100" stroke-dasharray="0.8 1.0"/>
<path d="M289.3 40.85L286.45 45.95L292.15 45.95Z"/>
<path d="M291.6 48.85L288.75 53.95L294.45 53.95Z"/>
<path d="M293.91 62.85L291.06 67.95L296.76 67.95Z"/>
<path d="M296.21 56.85L293.36 61.95L299.06 61.95Z"/>
<path d="M298.51 68.85L295.66 73.95L301.36 73.95Z"/>
<path d="M300.81 157.85L297.96 162.95L303.66 162.95Z"/>
<path d="M303.12 148.85L300.26 153.95L305.97 153.95Z"/>
<path d="M305.42 146.85L302.57 151.95L308.27 151.95Z"/>
<path d="M307.72 148.07L304.87 153.17L310.57 153.17Z"/>
<path d="M310.02 146.39L307.17 151.49L312.87 151.49Z"/>
<path d="M312.32 147.51L309.47 152.61L315.18 152.61Z"/>
<path d="M314.63 149.22L311.78 154.32L317.48 154.32Z"/>
<path d="M316.93 148.21L314.08 153.31L319.78 153.31Z"/>
<path d="M319.23 150.42L316.38 155.52L322.08 155.52Z"/>
<path d="M321.54 151.81L318.69 156.91L324.39 156.91Z"/>
<path d="M323.84 153.23L320.99 158.33L326.69 158.33Z"/>
<path d="M326.14 154.37L323.29 159.47L328.99 159.47Z"/>
<path d="M328.44 155.93L325.59 161.03L331.29 161.03Z"/>
<path d="M330.75 157.91L327.89 163.01L333.6 163.01Z"/>
<path d="M333.05 160.39L330.2 165.49L335.9 165.49Z"/>
<path d="M335.35 160.75L332.5 165.85L338.2 165.85Z"/>
<path d="M337.65 162.5L334.8 167.6L340.5 167.6Z"/>
<path d="M339.95 161.91L337.1 167.01L342.81 167.01Z"/>
<path d="M342.26 162.52L339.41 167.62L345.11 167.62Z"/>
<path d="M344.56 161.58L341.71 166.68L347.41 166.68Z"/>
<path d="M346.86 162.87L344.01 167.97L349.71 167.97Z"/>
<path d="M349.17 163.02L346.31 168.12L352.02 168.12Z"/>
<path d="M351.47 162.05L348.62 167.15L354.32 167.15Z"/>
<path d="M353.77 163.06L350.92 168.16L356.62 168.16Z"/>
<path d="M356.07 163.26L353.22 168.36L358.92 168.36Z"/>
<path d="M358.38 163L355.52 168.1L361.23 168.1Z"/>
<path d="M360.68 162.04L357.83 167.14L363.53 167.14Z"/>
<path d="M362.98 162.7L360.13 167.8L365.83 167.8Z"/>
<path d="M365.28 165.47L362.43 170.57L368.13 170.57Z"/>
<path d="M367.58 166.38L364.73 171.48L370.44 171.48Z"/>
<path d="M369.89 166.29L367.04 171.39L372.74 171.39Z"/>
<path d="M372.19 167.04L369.34 172.14L375.04 172.14Z"/>
<path d="M374.49 169.32L371.64 174.42L377.34 174.42Z"/>
<path d="M376.8 170.16L373.94 175.26L379.65 175.26Z"/>
<path d="M379.1 172.8L376.25 177.9L381.95 177.9Z"/>
<path d="M381.4 175.2L378.55 180.3L384.25 180.3Z"/>
<path d="M383.7 177.79L380.85 182.89L386.55 182.89Z"/>
<path d="M386 178.59L383.15 183.69L388.86 183.69Z"/>
<path d="M388.31 182.56L385.46 187.66L391.16 187.66Z"/>
<path d="M390.61 184.21L387.76 189.31L393.46 189.31Z"/>
<path d="M392.91 187.63L390.06 192.73L395.76 192.73Z"/>
<path d="M395.21 188.75L392.36 193.85L398.06 193.85Z"/>
<path d="M397.52 191.64L394.67 196.74L400.37 196.74Z"/>
<path d="M399.82 192.26L396.97 197.36L402.67 197.36Z"/>
<path d="M402.12 191.56L399.27 196.66L404.97 196.66Z"/>
<path d="M404.43 192.88L401.57 197.98L407.28 197.98Z"/>
<path d="M406.73 192.29L403.88 197.39L409.58 197.39Z"/>
<path d="M409.03 189.11L406.18 194.21L411.88 194.21Z"/>
<path d="M411.33 189.28L408.48 194.38L414.18 194.38Z"/>
<path d="M413.63 176.47L410.78 181.57L416.49 181.57Z"/>
<path d="M415.94 169.75L413.09 174.85L418.79 174.85Z"/>
<path d="M418.24 188.58L415.39 193.68L421.09 193.68Z"/>
<path d="M420.54 171.79L417.69 176.89L423.39 176.89Z"/>
<path d="M422.84 173.88L419.99 178.98L425.69 178.98Z"/>
<path d="M425.15 171.22L422.3 176.32L428 176.32Z"/>
<path d="M427.45 161.24L424.6 166.34L430.3 166.34Z"/>
<path d="M429.75 161.64L426.9 166.74L432.6 166.74Z"/>
<path d="M434.36 178.68L431.51 183.78L437.21 183.78Z"/>
<path d="M438.96 173.7L436.11 178.8L441.81 178.8Z"/>
<path d="M441.26 157.69L438.41 162.79L444.12 162.79Z"/>
<path d="M450.47 126.85L447.62 131.95L453.32 131.95Z"/>
<path d="M457.38 116.85L454.53 121.95L460.23 121.95Z"/>
<path d="M461.99 58.85L459.14 63.95L464.84 63.95Z"/>
<path d="M464.29 96.85L461.44 101.95L467.14 101.95Z"/>
<path d="M466.59 156.85L463.74 161.95L469.44 161.95Z"/>
</g>
<g stroke="#00ffff" stroke-width="0.8" fill="none" filter="url(#bl)">
<path d="M289.3 34L289.3 66M286.5 34L292.1 34M286.5 66L292.1 66M291.6 38L291.6 78M288.8 38L294.4 38M288.8 78L294.4 78M293.91 27L293.91 71M291.11 27L296.71 27M291.11 71L296.71 71M296.21 44L296.21 96M293.41 44L299.01 44M293.41 96L299.01 96M298.51 34L298.51 94M295.71 34L301.31 34M295.71 94L301.31 94M300.81 124L300.81 176M298.01 124L303.61 124M298.01 176L303.61 176M303.12 124L303.12 172M300.31 124L305.92 124M300.31 172L305.92 172M305.42 135L305.42 171M302.62 135L308.22 135M302.62 171L308.22 171M307.72 137.21L307.72 172.32M304.92 137.21L310.52 137.21M304.92 172.32L310.52 172.32M310.02 141.11L310.02 168.94M307.22 141.11L312.82 141.11M307.22 168.94L312.82 168.94M312.32 139.77L312.32 164.8M309.52 139.77L315.12 139.77M309.52 164.8L315.12 164.8M314.63 140.09L314.63 162.79M311.83 140.09L317.43 140.09M311.83 162.79L317.43 162.79M316.93 143.8L316.93 165.11M314.13 143.8L319.73 143.8M314.13 165.11L319.73 165.11M319.23 146.21L319.23 162.17M316.43 146.21L322.03 146.21M316.43 162.17L322.03 162.17M321.54 146.93L321.54 165.5M318.74 146.93L324.34 146.93M318.74 165.5L324.34 165.5M323.84 151.42L323.84 165.67M321.04 151.42L326.64 151.42M321.04 165.67L326.64 165.67M326.14 153.7L326.14 169.96M323.34 153.7L328.94 153.7M323.34 169.96L328.94 169.96M328.44 157.44L328.44 160.04M325.64 157.44L331.24 157.44M325.64 160.04L331.24 160.04M330.75 160.95L330.75 163.3M327.94 160.95L333.55 160.95M327.94 163.3L333.55 163.3M333.05 163.19L333.05 165.65M330.25 163.19L335.85 163.19M330.25 165.65L335.85 165.65M335.35 163.94L335.35 166.58M332.55 163.94L338.15 163.94M332.55 166.58L338.15 166.58M337.65 164.08L337.65 167.01M334.85 164.08L340.45 164.08M334.85 167.01L340.45 167.01M339.95 164.67L339.95 167.42M337.15 164.67L342.75 164.67M337.15 167.42L342.75 167.42M342.26 164.73L342.26 167.68M339.46 164.73L345.06 164.73M339.46 167.68L345.06 167.68M344.56 165.03L344.56 167.34M341.76 165.03L347.36 165.03M341.76 167.34L347.36 167.34M346.86 165.98L346.86 168.8M344.06 165.98L349.66 165.98M344.06 168.8L349.66 168.8M349.17 166.31L349.17 168.63M346.37 166.31L351.97 166.31M346.37 168.63L351.97 168.63M351.47 164.95L351.47 167.93M348.67 164.95L354.27 164.95M348.67 167.93L354.27 167.93M353.77 166.2L353.77 168.68M350.97 166.2L356.57 166.2M350.97 168.68L356.57 168.68M356.07 165.46L356.07 167.68M353.27 165.46L358.87 165.46M353.27 167.68L358.87 167.68M358.38 165.55L358.38 170.59M355.57 165.55L361.18 165.55M355.57 170.59L361.18 170.59M360.68 167.88L360.68 171.98M357.88 167.88L363.48 167.88M357.88 171.98L363.48 171.98M362.98 167.7L362.98 171.78M360.18 167.7L365.78 167.7M360.18 171.78L365.78 171.78M365.28 167.42L365.28 172.07M362.48 167.42L368.08 167.42M362.48 172.07L368.08 172.07M367.58 164.14L367.58 176.18M364.78 164.14L370.38 164.14M364.78 176.18L370.38 176.18M369.89 162.35L369.89 175.46M367.09 162.35L372.69 162.35M367.09 175.46L372.69 175.46M372.19 166.03L372.19 178.73M369.39 166.03L374.99 166.03M369.39 178.73L374.99 178.73M374.49 165.33L374.49 181.08M371.69 165.33L377.29 165.33M371.69 181.08L377.29 181.08M376.8 168.83L376.8 182.04M374 168.83L379.6 168.83M374 182.04L379.6 182.04M379.1 168.58L379.1 186.98M376.3 168.58L381.9 168.58M376.3 186.98L381.9 186.98M381.4 168.88L381.4 187.61M378.6 168.88L384.2 168.88M378.6 187.61L384.2 187.61M383.7 171.05L383.7 189.86M380.9 171.05L386.5 171.05M380.9 189.86L386.5 189.86M386 176.45L386 192.81M383.2 176.45L388.81 176.45M383.2 192.81L388.81 192.81M388.31 177.77L388.31 197.2M385.51 177.77L391.11 177.77M390.61 179.91L390.61 197.2M387.81 179.91L393.41 179.91M392.91 183.28L392.91 197.2M390.11 183.28L395.71 183.28M395.21 184.51L395.21 197.2M392.41 184.51L398.01 184.51M397.52 187.45L397.52 197.2M394.72 187.45L400.32 187.45M399.82 186.22L399.82 197.2M397.02 186.22L402.62 186.22M402.12 184.65L402.12 197.2M399.32 184.65L404.92 184.65M404.43 183.71L404.43 197.2M401.62 183.71L407.23 183.71M406.73 184.32L406.73 197.2M403.93 184.32L409.53 184.32M409.03 180.21L409.03 197.2M406.23 180.21L411.83 180.21M411.33 182.05L411.33 197.2M408.53 182.05L414.13 182.05M413.63 163.59L413.63 197.2M410.83 163.59L416.44 163.59M415.94 172.5L415.94 197.2M413.14 172.5L418.74 172.5M418.24 159.68L418.24 197.2M415.44 159.68L421.04 159.68M420.54 95L420.54 197.2M417.74 95L423.34 95M422.84 154.05L422.84 197.2M420.04 154.05L425.64 154.05M425.15 148.44L425.15 197.2M422.35 148.44L427.95 148.44M427.45 102.5L427.45 188.84M424.65 102.5L430.25 102.5M424.65 188.84L430.25 188.84M429.75 136.53L429.75 192.89M426.95 136.53L432.55 136.53M426.95 192.89L432.55 192.89M432.06 132.15L432.06 197.2M429.25 132.15L434.86 132.15M436.66 141.77L436.66 197.2M433.86 141.77L439.46 141.77M441.26 128.3L441.26 197.2M438.46 128.3L444.06 128.3M443.57 112.68L443.57 197.2M440.77 112.68L446.37 112.68M445.87 78.5L445.87 197.2M443.07 78.5L448.67 78.5M448.17 53L448.17 197.2M445.37 53L450.97 53M452.78 70L452.78 197.2M449.98 70L455.58 70M457.38 26.6L457.38 197.2M459.69 75L459.69 197.2M456.88 75L462.49 75M464.29 26.6L464.29 197.2M468.9 26.6L468.9 197.2M471.2 26.6L471.2 197.2" stroke-dasharray="4.5 1.6 0.9 1.6"/>
<path d="M289.3 53.15L286.45 48.05L292.15 48.05Z"/>
<path d="M291.6 61.15L288.75 56.05L294.45 56.05Z"/>
<path d="M293.91 52.15L291.06 47.05L296.76 47.05Z"/>
<path d="M296.21 73.15L293.36 68.05L299.06 68.05Z"/>
<path d="M298.51 67.15L295.66 62.05L301.36 62.05Z"/>
<path d="M300.81 153.15L297.96 148.05L303.66 148.05Z"/>
<path d="M303.12 151.15L300.26 146.05L305.97 146.05Z"/>
<path d="M305.42 156.15L302.57 151.05L308.27 151.05Z"/>
<path d="M307.72 157.91L304.87 152.81L310.57 152.81Z"/>
<path d="M310.02 158.17L307.17 153.07L312.87 153.07Z"/>
<path d="M312.32 155.44L309.47 150.34L315.18 150.34Z"/>
<path d="M314.63 154.59L311.78 149.49L317.48 149.49Z"/>
<path d="M316.93 157.6L314.08 152.5L319.78 152.5Z"/>
<path d="M319.23 157.34L316.38 152.24L322.08 152.24Z"/>
<path d="M321.54 159.36L318.69 154.26L324.39 154.26Z"/>
<path d="M323.84 161.7L320.99 156.6L326.69 156.6Z"/>
<path d="M326.14 164.98L323.29 159.88L328.99 159.88Z"/>
<path d="M328.44 161.89L325.59 156.79L331.29 156.79Z"/>
<path d="M330.75 165.27L327.89 160.17L333.6 160.17Z"/>
<path d="M333.05 167.57L330.2 162.47L335.9 162.47Z"/>
<path d="M335.35 168.41L332.5 163.31L338.2 163.31Z"/>
<path d="M337.65 168.7L334.8 163.6L340.5 163.6Z"/>
<path d="M339.95 169.19L337.1 164.09L342.81 164.09Z"/>
<path d="M342.26 169.35L339.41 164.25L345.11 164.25Z"/>
<path d="M344.56 169.33L341.71 164.23L347.41 164.23Z"/>
<path d="M346.86 170.54L344.01 165.44L349.71 165.44Z"/>
<path d="M349.17 170.62L346.31 165.52L352.02 165.52Z"/>
<path d="M351.47 169.59L348.62 164.49L354.32 164.49Z"/>
<path d="M353.77 170.59L350.92 165.49L356.62 165.49Z"/>
<path d="M356.07 169.72L353.22 164.62L358.92 164.62Z"/>
<path d="M358.38 171.22L355.52 166.12L361.23 166.12Z"/>
<path d="M360.68 173.08L357.83 167.98L363.53 167.98Z"/>
<path d="M362.98 172.89L360.13 167.79L365.83 167.79Z"/>
<path d="M365.28 172.89L362.43 167.79L368.13 167.79Z"/>
<path d="M367.58 173.31L364.73 168.21L370.44 168.21Z"/>
<path d="M369.89 172.05L367.04 166.95L372.74 166.95Z"/>
<path d="M372.19 175.53L369.34 170.43L375.04 170.43Z"/>
<path d="M374.49 176.36L371.64 171.26L377.34 171.26Z"/>
<path d="M376.8 178.59L373.94 173.49L379.65 173.49Z"/>
<path d="M379.1 180.93L376.25 175.83L381.95 175.83Z"/>
<path d="M381.4 181.39L378.55 176.29L384.25 176.29Z"/>
<path d="M383.7 183.61L380.85 178.51L386.55 178.51Z"/>
<path d="M386 187.78L383.15 182.68L388.86 182.68Z"/>
<path d="M388.31 191.64L385.46 186.54L391.16 186.54Z"/>
<path d="M390.61 193.04L387.76 187.94L393.46 187.94Z"/>
<path d="M392.91 196.01L390.06 190.91L395.76 190.91Z"/>
<path d="M395.21 197.94L392.36 192.84L398.06 192.84Z"/>
<path d="M397.52 200.19L394.67 195.09L400.37 195.09Z"/>
<path d="M399.82 199.92L396.97 194.82L402.67 194.82Z"/>
<path d="M402.12 199.46L399.27 194.36L404.97 194.36Z"/>
<path d="M404.43 200.05L401.57 194.95L407.28 194.95Z"/>
<path d="M406.73 199.35L403.88 194.25L409.58 194.25Z"/>
<path d="M409.03 198.74L406.18 193.64L411.88 193.64Z"/>
<path d="M411.33 198.19L408.48 193.09L414.18 193.09Z"/>
<path d="M413.63 192.79L410.78 187.69L416.49 187.69Z"/>
<path d="M415.94 191.55L413.09 186.45L418.79 186.45Z"/>
<path d="M418.24 181.79L415.39 176.69L421.09 176.69Z"/>
<path d="M420.54 184.49L417.69 179.39L423.39 179.39Z"/>
<path d="M422.84 185.24L419.99 180.14L425.69 180.14Z"/>
<path d="M425.15 176.35L422.3 171.25L428 171.25Z"/>
<path d="M427.45 166.9L424.6 161.8L430.3 161.8Z"/>
<path d="M429.75 167.86L426.9 162.76L432.6 162.76Z"/>
<path d="M432.06 175.81L429.2 170.71L434.91 170.71Z"/>
<path d="M436.66 195.15L433.81 190.05L439.51 190.05Z"/>
<path d="M441.26 180.1L438.41 175L444.12 175Z"/>
<path d="M443.57 177.19L440.72 172.09L446.42 172.09Z"/>
<path d="M445.87 169.8L443.02 164.7L448.72 164.7Z"/>
<path d="M448.17 143.15L445.32 138.05L451.02 138.05Z"/>
<path d="M452.78 133.15L449.93 128.05L455.63 128.05Z"/>
<path d="M457.38 143.15L454.53 138.05L460.23 138.05Z"/>
<path d="M459.69 158.15L456.83 153.05L462.54 153.05Z"/>
<path d="M464.29 123.15L461.44 118.05L467.14 118.05Z"/>
<path d="M468.9 178.15L466.05 173.05L471.75 173.05Z"/>
<path d="M471.2 163.15L468.35 158.05L474.05 158.05Z"/>
</g>
</g>
<path d="M369 124H385M352.5 153.8H396" stroke="#000" stroke-width="1.9" fill="none"/>
<path d="M327.5 167H396" stroke="#000" stroke-width="3.8" fill="none"/>
<path d="M288 197.2v-5.4M288 26.6v5.4M334.05 197.2v-5.4M334.05 26.6v5.4M380.1 197.2v-5.4M380.1 26.6v5.4M426.15 197.2v-5.4M426.15 26.6v5.4M472.2 197.2v-5.4M472.2 26.6v5.4M311.02 197.2v-2.9M311.02 26.6v2.9M357.07 197.2v-2.9M357.07 26.6v2.9M403.12 197.2v-2.9M403.12 26.6v2.9M449.17 197.2v-2.9M449.17 26.6v2.9M288 172.83h5.4M472.2 172.83h-5.4M288 124.09h5.4M472.2 124.09h-5.4M288 75.34h5.4M472.2 75.34h-5.4M288 26.6h5.4M472.2 26.6h-5.4M288 148.46h2.9M472.2 148.46h-2.9M288 99.71h2.9M472.2 99.71h-2.9M288 50.97h2.9M472.2 50.97h-2.9" stroke="#000" stroke-width="1.05" fill="none"/>
<rect x="288" y="26.6" width="184.2" height="170.6" stroke="#000" stroke-width="1.3" fill="none"/>
<filter id="gs" x="0" y="0" width="1" height="1" filterUnits="objectBoundingBox" color-interpolation-filters="sRGB"><feColorMatrix type="saturate" values="0"/></filter>
<g filter="url(#gs)">
<text x="177.6" y="46.35" text-anchor="end">n=3</text>
<text x="177.6" y="59.6" text-anchor="end">n=4</text>
<text x="177.6" y="72.9" text-anchor="end">n=5</text>
<text x="177.6" y="86.2" text-anchor="end">n=6</text>
<text x="177.6" y="99.5" text-anchor="end">n=7</text>
<text x="177.6" y="112.8" text-anchor="end">fit range</text>
<text x="75.7" y="49.2">Ps, 20<tspan font-size="10.6" dy="-6.4">3</tspan><tspan dy="6.4">x160</tspan></text>
<text x="40" y="192.25" text-anchor="end">0.375</text>
<text x="40" y="149.95" text-anchor="end">0.38</text>
<text x="40" y="107.65" text-anchor="end">0.385</text>
<text x="40" y="65.35" text-anchor="end">0.39</text>
<text x="49.6" y="215.4" text-anchor="middle">0</text>
<text x="95.5" y="215.4" text-anchor="middle">20</text>
<text x="141.4" y="215.4" text-anchor="middle">40</text>
<text x="187.3" y="215.4" text-anchor="middle">60</text>
<text x="233.2" y="215.4" text-anchor="middle">80</text>
<text x="140.2" y="236.2" text-anchor="middle">t</text>
<text x="125.8" y="18.75">m<tspan font-size="10.6" dy="-6.25">eff</tspan><tspan font-size="10.6" dy="10.25">1</tspan></text>
<text x="279.6" y="177.48" text-anchor="end">0.46</text>
<text x="279.6" y="128.74" text-anchor="end">0.48</text>
<text x="279.6" y="79.99" text-anchor="end">0.5</text>
<text x="279.6" y="31.25" text-anchor="end">0.52</text>
<text x="289.2" y="215.4" text-anchor="middle">0</text>
<text x="335.25" y="215.4" text-anchor="middle">20</text>
<text x="381.3" y="215.4" text-anchor="middle">40</text>
<text x="427.35" y="215.4" text-anchor="middle">60</text>
<text x="473.4" y="215.4" text-anchor="middle">80</text>
<text x="380.1" y="236.2" text-anchor="middle">t</text>
<text x="365.3" y="18.75">m<tspan font-size="10.6" dy="-6.25">eff</tspan><tspan font-size="10.6" dy="10.25">2</tspan></text>
</g>
</svg>
</body></html>
